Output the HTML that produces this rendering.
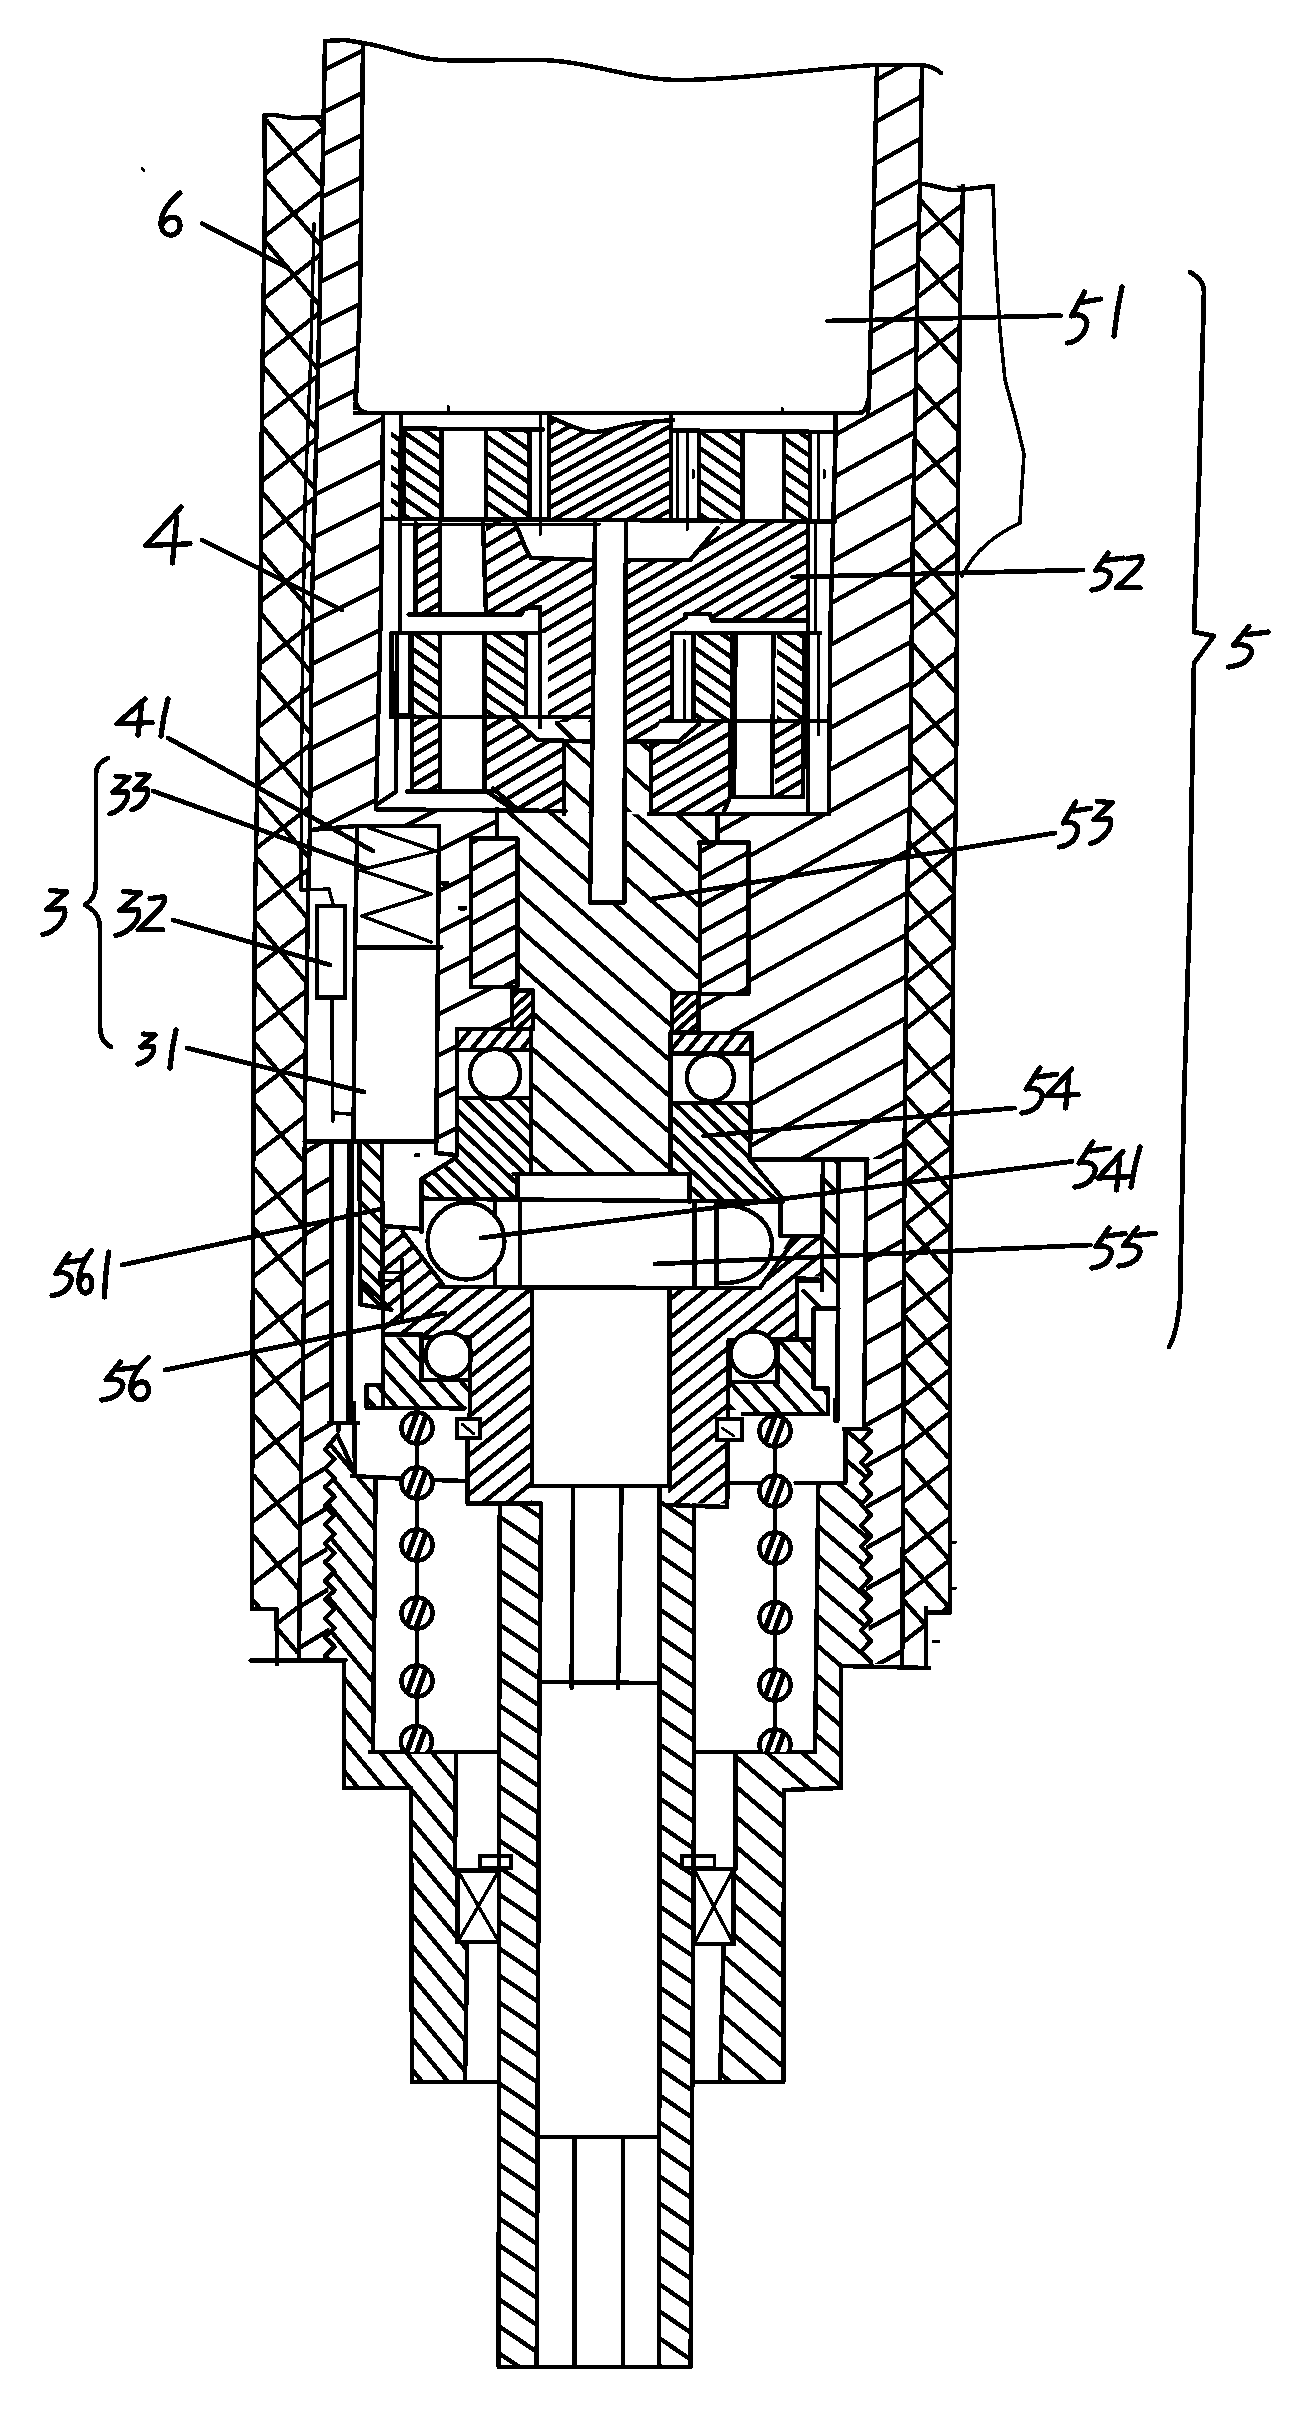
<!DOCTYPE html>
<html><head><meta charset="utf-8"><title>Diagram</title><style>html,body{margin:0;padding:0;background:#fff;overflow:hidden}svg{display:block;position:absolute;left:0;top:0}</style></head><body><svg width="1304" height="2423" viewBox="0 0 1304 2423" shape-rendering="crispEdges"><defs><clipPath id="c1"><polygon points="264.5,115.0 265.0,200.0 262.0,400.0 260.5,600.0 257.0,800.0 255.0,900.0 253.5,1100.0 252.4,1400.0 252.0,1608.0 276.6,1608.8 277.0,1660.0 299.0,1660.0 299.0,1660.0 300.5,1500.0 304.0,1300.0 305.0,1100.0 308.0,900.0 310.0,830.0 312.0,600.0 316.0,450.0 321.0,250.0 323.0,150.0 323.6,115.0"/></clipPath><clipPath id="c2"><polygon points="920.0,184.0 917.0,300.0 915.6,400.0 913.0,520.0 910.0,800.0 907.0,900.0 905.0,1100.0 904.5,1159.0 903.7,1300.0 903.0,1500.0 902.2,1664.0 926.0,1666.0 926.0,1612.0 949.8,1612.0 949.8,1612.0 949.8,1500.0 950.0,1300.0 952.0,1100.0 953.7,900.0 956.0,800.0 957.0,600.0 958.0,500.0 960.0,300.0 963.0,186.0"/></clipPath><clipPath id="c3"><polygon points="325.0,41.0 363.0,43.0 360.0,300.0 355.0,413.0 383.0,413.0 381.0,600.0 376.0,809.0 357.0,826.0 310.0,830.0 312.0,600.0 316.0,450.0 321.0,250.0 323.0,150.0 325.0,41.0"/></clipPath><clipPath id="c4"><polygon points="877.0,65.0 922.0,65.0 920.0,184.0 917.0,300.0 915.6,400.0 913.0,520.0 910.0,800.0 907.0,900.0 905.0,1100.0 904.5,1159.0 752.0,1159.0 752.0,1033.0 700.0,1033.0 700.0,994.0 748.0,994.0 748.0,842.0 717.0,842.0 717.0,814.0 829.0,814.0 830.5,620.0 835.7,432.0 835.7,413.0 867.0,413.0 869.0,400.0 874.0,200.0"/></clipPath><clipPath id="c5"><polygon points="376.0,809.0 497.0,809.0 497.0,838.7 471.0,838.7 471.0,987.0 512.0,990.0 512.0,1029.0 457.0,1029.0 457.0,1155.0 436.0,1155.0 436.0,1141.0 439.0,947.0 439.0,826.0 357.0,826.0"/></clipPath><clipPath id="c6"><polygon points="304.5,1141.7 331.4,1141.7 331.4,1422.0 338.0,1431.0 337.3,1435.0 325.0,1449.7 330.0,1656.0 330.0,1660.0 299.0,1660.0 299.0,1659.0 300.5,1500.0 304.0,1300.0 304.8,1141.7"/></clipPath><clipPath id="c7"><polygon points="866.4,1159.0 904.5,1159.0 903.7,1300.0 903.0,1500.0 902.2,1664.0 872.0,1664.0 866.0,1600.0 866.0,1429.0 866.4,1300.0"/></clipPath><clipPath id="c8"><polygon points="403.5,430.0 441.5,430.0 441.5,519.0 403.5,519.0"/></clipPath><clipPath id="c9"><polygon points="486.0,430.0 529.5,430.0 529.5,519.0 486.0,519.0"/></clipPath><clipPath id="c10"><polygon points="699.0,432.0 742.5,432.0 742.5,520.0 699.0,520.0"/></clipPath><clipPath id="c11"><polygon points="784.0,432.0 810.0,432.0 810.0,520.0 784.0,520.0"/></clipPath><clipPath id="c12"><polygon points="391.0,432.0 403.5,432.0 403.5,519.0 391.0,519.0"/></clipPath><clipPath id="c13"><polygon points="549.0,417.0 565.0,423.0 590.0,432.0 610.0,430.0 630.0,424.5 650.0,422.0 671.0,420.0 671.0,520.0 549.0,519.0"/></clipPath><clipPath id="c14"><polygon points="415.6,523.0 440.0,523.0 440.0,614.6 415.6,614.6"/></clipPath><clipPath id="c15"><polygon points="486.0,521.0 514.0,522.0 522.0,540.0 531.0,558.0 593.0,560.0 593.0,722.0 548.0,722.0 548.0,633.0 540.0,633.0 540.0,607.0 524.0,608.0 521.0,614.6 486.0,614.6"/></clipPath><clipPath id="c16"><polygon points="626.0,560.0 690.0,560.0 717.5,528.0 722.0,521.5 808.0,521.5 808.0,620.7 710.0,620.7 710.0,613.8 685.5,613.8 685.5,633.0 671.8,633.0 671.8,720.8 661.0,720.8 651.0,741.5 626.0,741.5"/></clipPath><clipPath id="c17"><polygon points="412.0,633.0 440.0,633.0 440.0,717.0 412.0,717.0"/></clipPath><clipPath id="c18"><polygon points="486.0,633.0 526.0,633.0 526.0,717.0 486.0,717.0"/></clipPath><clipPath id="c19"><polygon points="412.0,717.0 440.0,717.0 440.0,790.0 412.0,790.0"/></clipPath><clipPath id="c20"><polygon points="486.0,719.0 514.0,719.0 538.0,740.0 564.0,741.5 564.0,812.0 514.0,810.0 486.0,791.0"/></clipPath><clipPath id="c21"><polygon points="564.0,741.5 593.0,741.5 593.0,812.0 564.0,812.0"/></clipPath><clipPath id="c22"><polygon points="626.0,741.5 651.0,741.5 651.0,812.0 626.0,812.0"/></clipPath><clipPath id="c23"><polygon points="694.0,633.0 732.0,633.0 732.0,720.8 694.0,720.8"/></clipPath><clipPath id="c24"><polygon points="777.0,633.0 804.6,633.0 804.6,720.8 777.0,720.8"/></clipPath><clipPath id="c25"><polygon points="651.0,741.5 678.7,741.5 699.0,724.0 730.4,722.0 730.4,814.0 651.0,814.0"/></clipPath><clipPath id="c26"><polygon points="775.0,721.0 803.0,721.0 803.0,797.0 775.0,797.0"/></clipPath><clipPath id="c27"><polygon points="497.0,812.0 590.0,812.0 590.0,902.5 624.4,902.5 624.4,814.0 717.0,816.0 717.0,842.0 700.0,842.0 700.0,993.0 670.7,993.0 670.7,1173.8 531.0,1173.8 533.0,1028.0 533.0,990.5 517.4,990.5 517.4,838.7 497.0,838.7"/></clipPath><clipPath id="c28"><polygon points="471.0,838.7 517.4,838.7 517.4,987.0 471.0,987.0"/></clipPath><clipPath id="c29"><polygon points="700.0,842.0 748.4,842.0 748.4,994.0 700.0,994.0"/></clipPath><clipPath id="c30"><polygon points="512.0,990.5 533.0,990.5 533.0,1029.0 512.0,1029.0"/></clipPath><clipPath id="c31"><polygon points="672.0,993.0 698.3,993.0 698.3,1032.0 672.0,1032.0"/></clipPath><clipPath id="c32"><polygon points="459.0,1031.0 531.0,1031.0 531.0,1050.0 459.0,1050.0"/></clipPath><clipPath id="c33"><polygon points="457.0,1098.0 531.0,1098.0 531.0,1173.8 517.7,1173.8 517.7,1198.7 421.5,1198.7 421.5,1179.0 455.6,1158.0"/></clipPath><clipPath id="c34"><polygon points="672.0,1034.0 751.0,1034.0 751.0,1053.5 672.0,1053.5"/></clipPath><clipPath id="c35"><polygon points="670.7,1102.8 751.0,1102.8 749.4,1159.3 783.5,1199.7 782.5,1201.8 689.3,1201.8 689.3,1173.8 669.7,1173.8"/></clipPath><clipPath id="c36"><polygon points="359.4,1141.7 382.0,1141.7 383.0,1300.0 391.4,1309.7 360.4,1304.5"/></clipPath><clipPath id="c37"><polygon points="383.2,1229.0 402.8,1231.8 443.2,1285.0 441.0,1287.0 532.0,1287.0 532.0,1503.5 467.7,1503.5 470.0,1337.6 401.8,1334.5 383.2,1334.5"/></clipPath><clipPath id="c38"><polygon points="383.2,1337.6 421.5,1337.6 421.5,1380.0 470.0,1380.0 470.0,1408.0 366.6,1408.0 366.6,1385.0 383.2,1385.0"/></clipPath><clipPath id="c39"><polygon points="822.9,1159.0 838.4,1159.0 837.4,1290.0 821.8,1290.0"/></clipPath><clipPath id="c40"><polygon points="669.7,1288.0 759.7,1288.0 790.0,1238.0 821.8,1236.0 821.8,1276.6 797.0,1276.6 797.0,1336.6 777.0,1340.0 729.0,1340.0 728.7,1503.5 668.0,1503.5"/></clipPath><clipPath id="c41"><polygon points="729.7,1382.0 777.3,1382.0 777.3,1340.0 813.6,1340.0 813.6,1388.4 828.0,1388.4 828.0,1414.0 743.0,1414.0 743.0,1410.0 729.7,1410.0"/></clipPath><clipPath id="c42"><polygon points="499.8,1503.5 541.0,1503.5 538.8,1800.0 536.7,2367.0 498.7,2367.0 499.0,1800.0"/></clipPath><clipPath id="c43"><polygon points="659.7,1486.0 694.0,1505.0 694.0,1800.0 690.6,2367.0 659.0,2367.0 659.6,1800.0"/></clipPath><clipPath id="c44"><polygon points="337.3,1435.0 352.8,1468.0 355.0,1476.0 375.6,1478.7 373.0,1752.0 456.0,1752.0 455.0,1870.0 457.7,1870.0 457.7,1942.0 467.3,1942.0 465.0,2082.0 412.0,2082.0 411.0,1788.0 343.9,1788.0 343.9,1660.0 330.0,1660.0 325.0,1656.0 334.5,1646.6 325.0,1637.2 334.5,1627.9 325.0,1618.5 334.5,1609.1 325.0,1599.7 334.5,1590.4 325.0,1581.0 334.5,1571.6 325.0,1562.2 334.5,1552.8 325.0,1543.5 334.5,1534.1 325.0,1524.7 334.5,1515.3 325.0,1506.0 334.5,1496.6 325.0,1487.2 334.5,1477.8 325.0,1468.5 334.5,1459.1 325.0,1449.7"/></clipPath><clipPath id="c45"><polygon points="844.2,1429.0 868.0,1429.0 871.0,1431.0 861.0,1441.5 871.0,1452.0 861.0,1462.5 871.0,1473.0 861.0,1483.5 871.0,1494.0 861.0,1504.5 871.0,1515.0 861.0,1525.5 871.0,1536.0 861.0,1546.5 871.0,1557.0 861.0,1567.5 871.0,1578.0 861.0,1588.5 871.0,1599.0 861.0,1609.5 871.0,1620.0 861.0,1630.5 871.0,1641.0 861.0,1651.5 871.0,1662.0 841.0,1666.0 840.8,1788.0 784.0,1790.0 783.4,2082.0 720.0,2082.0 723.6,1944.0 733.7,1944.0 733.7,1869.0 735.7,1869.0 735.6,1752.0 815.0,1752.0 818.3,1485.0 845.3,1482.8"/></clipPath><clipPath id="c47"><circle cx="417.0" cy="1428.0" r="15.5"/></clipPath><clipPath id="c49"><circle cx="417.0" cy="1483.0" r="15.5"/></clipPath><clipPath id="c51"><circle cx="417.0" cy="1545.0" r="15.5"/></clipPath><clipPath id="c53"><circle cx="417.0" cy="1613.0" r="15.5"/></clipPath><clipPath id="c55"><circle cx="417.0" cy="1681.0" r="15.5"/></clipPath><clipPath id="c56"><rect x="397.8" y="1723.0" width="37.0" height="29.0"/></clipPath><clipPath id="c57"><circle cx="416.3" cy="1741.5" r="15.5"/></clipPath><clipPath id="c59"><circle cx="775.0" cy="1431.0" r="15.5"/></clipPath><clipPath id="c61"><circle cx="775.0" cy="1491.0" r="15.5"/></clipPath><clipPath id="c63"><circle cx="775.0" cy="1548.0" r="15.5"/></clipPath><clipPath id="c65"><circle cx="775.0" cy="1617.6" r="15.5"/></clipPath><clipPath id="c67"><circle cx="775.0" cy="1685.0" r="15.5"/></clipPath><clipPath id="c68"><rect x="756.5" y="1726.5" width="37.0" height="25.5"/></clipPath><clipPath id="c69"><circle cx="775.0" cy="1745.0" r="15.5"/></clipPath></defs><rect width="1304" height="2423" fill="#fff"/><path d="M263.5,112.6 L325.1,65.0 M266.5,59.6 L322.1,125.2 M263.7,174.7 L324.0,128.1 M266.7,120.7 L321.0,184.5 M263.8,236.8 L322.7,191.2 M266.8,181.6 L319.7,244.0 M262.9,299.2 L321.4,254.0 M265.9,242.1 L318.4,303.9 M262.0,357.4 L319.8,312.6 M265.0,306.9 L316.8,367.9 M261.0,419.7 L318.3,375.5 M264.0,367.4 L315.3,427.8 M260.6,481.9 L316.8,438.5 M263.6,428.3 L313.8,487.3 M260.1,539.8 L315.1,497.4 M263.1,493.4 L312.1,551.0 M259.6,601.9 L313.5,560.5 M262.6,554.3 L310.5,610.5 M258.7,664.6 L312.6,623.0 M261.7,614.5 L309.6,670.7 M257.7,727.4 L312.1,685.4 M260.7,674.3 L309.1,731.3 M256.6,786.0 L311.6,743.6 M259.6,738.4 L308.6,796.0 M255.5,848.8 L311.0,806.0 M258.5,798.3 L308.0,856.5 M254.2,911.2 L309.3,868.8 M257.2,858.7 L306.3,916.5 M253.6,969.4 L308.2,927.4 M256.6,923.4 L305.2,980.6 M253.2,1031.9 L307.3,990.1 M256.2,983.9 L304.3,1040.5 M252.7,1094.3 L306.4,1052.9 M255.7,1044.4 L303.4,1100.4 M252.4,1156.8 L305.8,1115.6 M255.4,1104.7 L302.8,1160.5 M252.1,1215.1 L305.5,1174.1 M255.1,1169.2 L302.5,1224.8 M251.9,1277.7 L305.2,1236.7 M254.9,1229.4 L302.2,1285.0 M251.7,1340.2 L304.7,1299.4 M254.7,1289.8 L301.7,1345.0 M251.5,1398.3 L303.6,1358.1 M254.5,1354.7 L300.6,1408.9 M251.3,1460.5 L302.5,1421.1 M254.3,1415.5 L299.5,1468.5 M251.2,1522.7 L301.5,1484.1 M254.2,1476.2 L298.5,1528.2 M251.1,1585.1 L300.9,1546.9 M254.1,1536.7 L297.9,1588.1 M251.0,1643.3 L300.3,1605.5 M254.0,1601.4 L297.3,1652.2" clip-path="url(#c1)" fill="none" stroke="#000" stroke-width="4.5" stroke-linecap="round"/>
<path d="M919.3,179.3 L964.0,145.1 M922.3,144.3 L961.0,187.3 M918.0,238.6 L963.1,204.2 M921.0,200.9 L960.1,244.3 M916.5,297.8 L961.5,263.4 M919.5,257.7 L958.5,301.1 M915.4,361.1 L960.6,326.5 M918.4,318.4 L957.6,362.0 M914.5,422.2 L959.9,387.4 M917.5,385.2 L956.9,429.2 M913.2,481.2 L959.4,445.8 M916.2,441.1 L956.4,485.9 M912.0,542.1 L958.8,506.3 M915.0,499.0 L955.8,544.6 M911.4,588.1 L958.3,552.3 M914.4,551.0 L955.3,596.6 M911.0,629.4 L957.9,593.4 M914.0,589.8 L954.9,635.4 M910.4,687.7 L957.7,651.5 M913.4,645.4 L954.7,691.4 M909.8,744.0 L957.4,707.6 M912.8,699.0 L954.4,745.4 M909.2,795.1 L957.1,758.5 M912.2,755.8 L954.1,802.6 M908.1,849.5 L956.3,812.5 M911.1,807.4 L953.3,854.6 M907.0,887.8 L955.4,850.6 M910.0,843.1 L952.4,890.5 M905.9,931.9 L954.6,894.5 M908.9,892.9 L951.6,940.7 M905.4,983.1 L954.1,945.7 M908.4,941.7 L951.1,989.5 M904.9,1029.3 L953.8,991.9 M907.9,985.5 L950.8,1033.3 M904.3,1090.6 L953.3,1053.0 M907.3,1044.2 L950.3,1092.2 M903.8,1137.6 L952.8,1100.0 M906.8,1097.2 L949.8,1145.2 M903.5,1183.8 L952.4,1146.2 M906.5,1141.0 L949.4,1189.0 M903.2,1225.9 L951.9,1188.5 M906.2,1180.9 L948.9,1228.7 M903.0,1263.3 L951.5,1226.1 M906.0,1224.5 L948.5,1272.1 M902.7,1313.9 L951.0,1276.9 M905.7,1273.0 L948.0,1320.2 M902.6,1360.2 L951.0,1323.0 M905.6,1316.7 L948.0,1364.1 M902.4,1406.4 L950.9,1369.2 M905.4,1360.5 L947.9,1407.9 M902.2,1449.5 L950.9,1412.1 M905.2,1409.4 L947.9,1457.0 M902.1,1502.7 L950.8,1465.3 M905.1,1460.1 L947.8,1507.9 M901.8,1555.0 L950.8,1517.4 M904.8,1509.8 L947.8,1557.8 M901.6,1597.1 L950.8,1559.3 M904.6,1557.7 L947.8,1605.9 M901.4,1643.4 L950.8,1605.4 M904.4,1601.3 L947.8,1649.9" clip-path="url(#c2)" fill="none" stroke="#000" stroke-width="4.5" stroke-linecap="round"/>
<path d="M308.0,-6.0 L385.0,-44.5 M308.0,36.0 L385.0,-2.5 M308.0,78.0 L385.0,39.5 M308.0,120.0 L385.0,81.5 M308.0,162.0 L385.0,123.5 M308.0,204.0 L385.0,165.5 M308.0,246.0 L385.0,207.5 M308.0,288.0 L385.0,249.5 M308.0,330.0 L385.0,291.5 M308.0,372.0 L385.0,333.5 M308.0,414.0 L385.0,375.5 M308.0,456.0 L385.0,417.5 M308.0,498.0 L385.0,459.5 M308.0,540.0 L385.0,501.5 M308.0,582.0 L385.0,543.5 M308.0,624.0 L385.0,585.5 M308.0,666.0 L385.0,627.5 M308.0,708.0 L385.0,669.5 M308.0,750.0 L385.0,711.5 M308.0,792.0 L385.0,753.5 M308.0,834.0 L385.0,795.5 M308.0,876.0 L385.0,837.5" clip-path="url(#c3)" fill="none" stroke="#000" stroke-width="4.5"/>
<path d="M698.0,-111.4 L924.0,-237.0 M698.0,-69.9 L924.0,-195.5 M698.0,-28.4 L924.0,-154.0 M698.0,13.1 L924.0,-112.5 M698.0,54.6 L924.0,-71.0 M698.0,96.1 L924.0,-29.5 M698.0,137.6 L924.0,12.0 M698.0,179.1 L924.0,53.5 M698.0,220.6 L924.0,95.0 M698.0,262.1 L924.0,136.5 M698.0,303.6 L924.0,178.0 M698.0,345.1 L924.0,219.5 M698.0,386.6 L924.0,261.0 M698.0,428.1 L924.0,302.5 M698.0,469.6 L924.0,344.0 M698.0,511.1 L924.0,385.5 M698.0,552.6 L924.0,427.0 M698.0,594.1 L924.0,468.5 M698.0,635.6 L924.0,510.0 M698.0,677.1 L924.0,551.5 M698.0,718.6 L924.0,593.0 M698.0,760.1 L924.0,634.5 M698.0,801.6 L924.0,676.0 M698.0,843.1 L924.0,717.5 M698.0,884.6 L924.0,759.0 M698.0,926.1 L924.0,800.5 M698.0,967.6 L924.0,842.0 M698.0,1009.1 L924.0,883.5 M698.0,1050.6 L924.0,925.0 M698.0,1092.1 L924.0,966.5 M698.0,1133.6 L924.0,1008.0 M698.0,1175.1 L924.0,1049.5 M698.0,1216.6 L924.0,1091.0 M698.0,1258.1 L924.0,1132.5 M698.0,1299.6 L924.0,1174.0" clip-path="url(#c4)" fill="none" stroke="#000" stroke-width="4.5"/>
<path d="M355.0,687.0 L514.0,607.5 M355.0,728.0 L514.0,648.5 M355.0,769.0 L514.0,689.5 M355.0,810.0 L514.0,730.5 M355.0,851.0 L514.0,771.5 M355.0,892.0 L514.0,812.5 M355.0,933.0 L514.0,853.5 M355.0,974.0 L514.0,894.5 M355.0,1015.0 L514.0,935.5 M355.0,1056.0 L514.0,976.5 M355.0,1097.0 L514.0,1017.5 M355.0,1138.0 L514.0,1058.5 M355.0,1179.0 L514.0,1099.5 M355.0,1220.0 L514.0,1140.5 M355.0,1261.0 L514.0,1181.5" clip-path="url(#c5)" fill="none" stroke="#000" stroke-width="4.5"/>
<path d="M297.0,1075.2 L340.0,1049.4 M297.0,1116.2 L340.0,1090.4 M297.0,1157.2 L340.0,1131.4 M297.0,1198.2 L340.0,1172.4 M297.0,1239.2 L340.0,1213.4 M297.0,1280.2 L340.0,1254.4 M297.0,1321.2 L340.0,1295.4 M297.0,1362.2 L340.0,1336.4 M297.0,1403.2 L340.0,1377.4 M297.0,1444.2 L340.0,1418.4 M297.0,1485.2 L340.0,1459.4 M297.0,1526.2 L340.0,1500.4 M297.0,1567.2 L340.0,1541.4 M297.0,1608.2 L340.0,1582.4 M297.0,1649.2 L340.0,1623.4 M297.0,1690.2 L340.0,1664.4" clip-path="url(#c6)" fill="none" stroke="#000" stroke-width="4.5"/>
<path d="M864.0,1098.1 L906.5,1074.5 M864.0,1139.1 L906.5,1115.5 M864.0,1180.1 L906.5,1156.5 M864.0,1221.1 L906.5,1197.5 M864.0,1262.1 L906.5,1238.5 M864.0,1303.1 L906.5,1279.5 M864.0,1344.1 L906.5,1320.5 M864.0,1385.1 L906.5,1361.5 M864.0,1426.1 L906.5,1402.5 M864.0,1467.1 L906.5,1443.5 M864.0,1508.1 L906.5,1484.5 M864.0,1549.1 L906.5,1525.5 M864.0,1590.1 L906.5,1566.5 M864.0,1631.1 L906.5,1607.5 M864.0,1672.1 L906.5,1648.5 M864.0,1713.1 L906.5,1689.5" clip-path="url(#c7)" fill="none" stroke="#000" stroke-width="4.5"/>
<polyline points="264.5,115.0 265.0,200.0 262.0,400.0 260.5,600.0 257.0,800.0 255.0,900.0 253.5,1100.0 252.4,1400.0 252.0,1608.0" fill="none" stroke="#000" stroke-width="4.5" stroke-linejoin="round" stroke-linecap="round"/>
<polyline points="252.0,1608.8 276.6,1608.8 277.0,1664.0" fill="none" stroke="#000" stroke-width="4.5" stroke-linejoin="round" stroke-linecap="round"/>
<polyline points="325.0,41.0 323.0,150.0 321.0,250.0 316.0,450.0 312.0,600.0 310.0,830.0 308.0,900.0 305.0,1100.0 304.0,1300.0 300.5,1500.0 299.0,1660.0" fill="none" stroke="#000" stroke-width="4.5" stroke-linejoin="round" stroke-linecap="round"/>
<polyline points="250.7,1660.4 345.6,1660.4 343.9,1660.4" fill="none" stroke="#000" stroke-width="4.5" stroke-linejoin="round" stroke-linecap="round"/>
<path d="M264.5,116 C275,112 285,119 297,118 C308,117 315,118 323,117" fill="none" stroke="#000" stroke-width="4.5" stroke-linejoin="round" stroke-linecap="round"/>
<polyline points="314.0,224.0 311.0,350.0 305.0,500.0 302.0,700.0 301.0,890.0 329.0,889.0 333.0,904.0" fill="none" stroke="#000" stroke-width="3.4" stroke-linejoin="round" stroke-linecap="round"/>
<polyline points="922.0,65.0 920.0,184.0 917.0,300.0 915.6,400.0 913.0,520.0 910.0,800.0 907.0,900.0 905.0,1100.0 904.5,1159.0 903.7,1300.0 903.0,1500.0 902.2,1664.0" fill="none" stroke="#000" stroke-width="4.5" stroke-linejoin="round" stroke-linecap="round"/>
<polyline points="963.0,186.0 960.0,300.0 958.0,500.0 957.0,600.0 956.0,800.0 953.7,900.0 952.0,1100.0 950.0,1300.0 949.8,1500.0 949.8,1612.0" fill="none" stroke="#000" stroke-width="4.5" stroke-linejoin="round" stroke-linecap="round"/>
<polyline points="926.0,1608.0 926.0,1668.0" fill="none" stroke="#000" stroke-width="4.5" stroke-linejoin="round" stroke-linecap="round"/>
<polyline points="926.0,1612.5 949.8,1612.5" fill="none" stroke="#000" stroke-width="4.5" stroke-linejoin="round" stroke-linecap="round"/>
<line x1="949.8" y1="1543.0" x2="956.0" y2="1542.0" stroke="#000" stroke-width="3.0" stroke-linecap="round"/>
<line x1="949.8" y1="1589.0" x2="956.0" y2="1588.0" stroke="#000" stroke-width="3.0" stroke-linecap="round"/>
<line x1="933.0" y1="1641.4" x2="939.0" y2="1641.4" stroke="#000" stroke-width="3.0" stroke-linecap="round"/>
<path d="M921,184 C935,184 945,192 961,190 C975,188 985,187 993,186" fill="none" stroke="#000" stroke-width="4.5" stroke-linejoin="round" stroke-linecap="round"/>
<path d="M993,186 L995,250 L1000,330 L1005,380 L1016,420 L1024,454 L1021,500 L1020,523 C995,535 975,550 962,576" fill="none" stroke="#000" stroke-width="3.6" stroke-linejoin="round" stroke-linecap="round"/>
<polyline points="363.0,43.0 360.0,300.0 356.0,400.0 355.0,408.0" fill="none" stroke="#000" stroke-width="4.5" stroke-linejoin="round" stroke-linecap="round"/>
<path d="M355,396 C356,408 360,412 368,413" fill="none" stroke="#000" stroke-width="4.5" stroke-linejoin="round" stroke-linecap="round"/>
<polyline points="355.0,413.0 861.5,413.0" fill="none" stroke="#000" stroke-width="4.5" stroke-linejoin="round" stroke-linecap="round"/>
<polyline points="877.0,65.0 874.0,200.0 869.0,400.0 868.0,413.0" fill="none" stroke="#000" stroke-width="4.5" stroke-linejoin="round" stroke-linecap="round"/>
<path d="M868,400 C867,409 864,413 858,413" fill="none" stroke="#000" stroke-width="4.5" stroke-linejoin="round" stroke-linecap="round"/>
<path d="M325,41 L345,40 L363,43 C395,48 410,58 440,60 C480,62 500,59 540,60 C590,61 630,80 680,80 C740,80 800,70 874,65 L922,65 C930,66 936,68 941,73" fill="none" stroke="#000" stroke-width="4.5" stroke-linejoin="round" stroke-linecap="round"/>
<polyline points="383.0,413.0 381.0,600.0 376.0,809.0" fill="none" stroke="#000" stroke-width="4.5" stroke-linejoin="round" stroke-linecap="round"/>
<polyline points="401.0,413.0 400.0,520.0 400.0,633.0" fill="none" stroke="#000" stroke-width="4.5" stroke-linejoin="round" stroke-linecap="round"/>
<polyline points="401.0,428.5 543.0,429.5" fill="none" stroke="#000" stroke-width="4.5" stroke-linejoin="round" stroke-linecap="round"/>
<polyline points="673.0,430.5 835.7,432.0" fill="none" stroke="#000" stroke-width="4.5" stroke-linejoin="round" stroke-linecap="round"/>
<polyline points="835.7,413.0 835.7,432.0 830.5,620.0 828.8,814.0" fill="none" stroke="#000" stroke-width="4.5" stroke-linejoin="round" stroke-linecap="round"/>
<polyline points="376.0,809.3 565.7,811.0" fill="none" stroke="#000" stroke-width="4.5" stroke-linejoin="round" stroke-linecap="round"/>
<polyline points="397.0,633.0 396.0,791.7 376.0,805.0" fill="none" stroke="#000" stroke-width="4.5" stroke-linejoin="round" stroke-linecap="round"/>
<polyline points="649.0,814.0 828.8,814.0" fill="none" stroke="#000" stroke-width="4.5" stroke-linejoin="round" stroke-linecap="round"/>
<path d="M401.5,381.1 L443.5,410.5 M401.5,397.6 L443.5,427.0 M401.5,414.1 L443.5,443.5 M401.5,430.6 L443.5,460.0 M401.5,447.1 L443.5,476.5 M401.5,463.6 L443.5,493.0 M401.5,480.1 L443.5,509.5 M401.5,496.6 L443.5,526.0 M401.5,513.1 L443.5,542.5 M401.5,529.6 L443.5,559.0 M401.5,546.1 L443.5,575.5" clip-path="url(#c8)" fill="none" stroke="#000" stroke-width="4.5"/>
<path d="M484.0,385.1 L531.5,418.4 M484.0,401.6 L531.5,434.9 M484.0,418.1 L531.5,451.4 M484.0,434.6 L531.5,467.9 M484.0,451.1 L531.5,484.4 M484.0,467.6 L531.5,500.9 M484.0,484.1 L531.5,517.4 M484.0,500.6 L531.5,533.9 M484.0,517.1 L531.5,550.4 M484.0,533.6 L531.5,566.9 M484.0,550.1 L531.5,583.4" clip-path="url(#c9)" fill="none" stroke="#000" stroke-width="4.5"/>
<path d="M697.0,380.1 L744.5,413.4 M697.0,396.6 L744.5,429.9 M697.0,413.1 L744.5,446.4 M697.0,429.6 L744.5,462.9 M697.0,446.1 L744.5,479.4 M697.0,462.6 L744.5,495.9 M697.0,479.1 L744.5,512.4 M697.0,495.6 L744.5,528.9 M697.0,512.1 L744.5,545.4 M697.0,528.6 L744.5,561.9 M697.0,545.1 L744.5,578.4 M697.0,561.6 L744.5,594.9" clip-path="url(#c10)" fill="none" stroke="#000" stroke-width="4.5"/>
<path d="M782.0,403.6 L812.0,424.6 M782.0,420.1 L812.0,441.1 M782.0,436.6 L812.0,457.6 M782.0,453.1 L812.0,474.1 M782.0,469.6 L812.0,490.6 M782.0,486.1 L812.0,507.1 M782.0,502.6 L812.0,523.6 M782.0,519.1 L812.0,540.1 M782.0,535.6 L812.0,556.6 M782.0,552.1 L812.0,573.1" clip-path="url(#c11)" fill="none" stroke="#000" stroke-width="4.5"/>
<path d="M389.0,399.6 L405.5,411.1 M389.0,416.1 L405.5,427.6 M389.0,432.6 L405.5,444.1 M389.0,449.1 L405.5,460.6 M389.0,465.6 L405.5,477.1 M389.0,482.1 L405.5,493.6 M389.0,498.6 L405.5,510.1 M389.0,515.1 L405.5,526.6 M389.0,531.6 L405.5,543.1" clip-path="url(#c12)" fill="none" stroke="#000" stroke-width="4.5"/>
<path d="M547.0,327.1 L673.0,256.6 M547.0,341.1 L673.0,270.6 M547.0,355.1 L673.0,284.6 M547.0,369.1 L673.0,298.6 M547.0,383.1 L673.0,312.6 M547.0,397.1 L673.0,326.6 M547.0,411.1 L673.0,340.6 M547.0,425.1 L673.0,354.6 M547.0,439.1 L673.0,368.6 M547.0,453.1 L673.0,382.6 M547.0,467.1 L673.0,396.6 M547.0,481.1 L673.0,410.6 M547.0,495.1 L673.0,424.6 M547.0,509.1 L673.0,438.6 M547.0,523.1 L673.0,452.6 M547.0,537.1 L673.0,466.6 M547.0,551.1 L673.0,480.6 M547.0,565.1 L673.0,494.6 M547.0,579.1 L673.0,508.6 M547.0,593.1 L673.0,522.6" clip-path="url(#c13)" fill="none" stroke="#000" stroke-width="4.5"/>
<path d="M549,417 C562,421 577,431 592,432 C612,432 625,423 650,422 L673,420" fill="none" stroke="#000" stroke-width="4.5" stroke-linejoin="round" stroke-linecap="round"/>
<line x1="403.5" y1="430.0" x2="403.5" y2="519.0" stroke="#000" stroke-width="4.5" stroke-linecap="round"/>
<line x1="441.5" y1="430.0" x2="441.5" y2="519.0" stroke="#000" stroke-width="4.5" stroke-linecap="round"/>
<line x1="486.0" y1="430.0" x2="486.0" y2="519.0" stroke="#000" stroke-width="4.5" stroke-linecap="round"/>
<line x1="529.5" y1="430.0" x2="529.5" y2="519.0" stroke="#000" stroke-width="4.5" stroke-linecap="round"/>
<line x1="699.0" y1="432.0" x2="699.0" y2="520.0" stroke="#000" stroke-width="4.5" stroke-linecap="round"/>
<line x1="742.5" y1="432.0" x2="742.5" y2="520.0" stroke="#000" stroke-width="4.5" stroke-linecap="round"/>
<line x1="784.0" y1="432.0" x2="784.0" y2="520.0" stroke="#000" stroke-width="4.5" stroke-linecap="round"/>
<line x1="810.0" y1="432.0" x2="810.0" y2="520.0" stroke="#000" stroke-width="4.5" stroke-linecap="round"/>
<line x1="549.0" y1="413.0" x2="549.0" y2="519.0" stroke="#000" stroke-width="4.5" stroke-linecap="round"/>
<line x1="671.0" y1="416.0" x2="671.0" y2="521.0" stroke="#000" stroke-width="4.5" stroke-linecap="round"/>
<line x1="677.5" y1="430.0" x2="677.5" y2="521.0" stroke="#000" stroke-width="3.0" stroke-linecap="round"/>
<line x1="540.0" y1="413.0" x2="540.0" y2="535.0" stroke="#000" stroke-width="3.0" stroke-linecap="round"/>
<line x1="687.0" y1="432.0" x2="687.0" y2="530.0" stroke="#000" stroke-width="3.0" stroke-linecap="round"/>
<line x1="818.0" y1="432.0" x2="818.0" y2="521.0" stroke="#000" stroke-width="3.0" stroke-linecap="round"/>
<line x1="540.0" y1="470.0" x2="540.0" y2="478.0" stroke="#000" stroke-width="3.0" stroke-linecap="round"/>
<line x1="693.0" y1="470.0" x2="693.0" y2="478.0" stroke="#000" stroke-width="3.0" stroke-linecap="round"/>
<line x1="824.0" y1="470.0" x2="824.0" y2="478.0" stroke="#000" stroke-width="3.0" stroke-linecap="round"/>
<polyline points="383.0,519.0 600.0,520.0 835.0,521.5" fill="none" stroke="#000" stroke-width="4.5" stroke-linejoin="round" stroke-linecap="round"/>
<line x1="401.0" y1="524.0" x2="600.0" y2="524.0" stroke="#000" stroke-width="3.0" stroke-linecap="round"/>
<path d="M413.6,484.2 L442.0,467.2 M413.6,499.2 L442.0,482.2 M413.6,514.2 L442.0,497.2 M413.6,529.2 L442.0,512.2 M413.6,544.2 L442.0,527.2 M413.6,559.2 L442.0,542.2 M413.6,574.2 L442.0,557.2 M413.6,589.2 L442.0,572.2 M413.6,604.2 L442.0,587.2 M413.6,619.2 L442.0,602.2 M413.6,634.2 L442.0,617.2" clip-path="url(#c14)" fill="none" stroke="#000" stroke-width="4.5"/>
<line x1="415.6" y1="523.0" x2="415.6" y2="614.6" stroke="#000" stroke-width="4.5" stroke-linecap="round"/>
<line x1="440.0" y1="523.0" x2="440.0" y2="614.6" stroke="#000" stroke-width="4.5" stroke-linecap="round"/>
<line x1="483.0" y1="523.0" x2="486.0" y2="614.6" stroke="#000" stroke-width="4.5" stroke-linecap="round"/>
<path d="M484.0,428.2 L595.0,362.7 M484.0,445.2 L595.0,379.7 M484.0,462.2 L595.0,396.7 M484.0,479.2 L595.0,413.7 M484.0,496.2 L595.0,430.7 M484.0,513.2 L595.0,447.7 M484.0,530.2 L595.0,464.7 M484.0,547.2 L595.0,481.7 M484.0,564.2 L595.0,498.7 M484.0,581.2 L595.0,515.7 M484.0,598.2 L595.0,532.7 M484.0,615.2 L595.0,549.7 M484.0,632.2 L595.0,566.7 M484.0,649.2 L595.0,583.7 M484.0,666.2 L595.0,600.7 M484.0,683.2 L595.0,617.7 M484.0,700.2 L595.0,634.7 M484.0,717.2 L595.0,651.7 M484.0,734.2 L595.0,668.7 M484.0,751.2 L595.0,685.7 M484.0,768.2 L595.0,702.7 M484.0,785.2 L595.0,719.7 M484.0,802.2 L595.0,736.7" clip-path="url(#c15)" fill="none" stroke="#000" stroke-width="4.5"/>
<path d="M514,522 C520,530 524,550 531,558 L593,560" fill="none" stroke="#000" stroke-width="4.5" stroke-linejoin="round" stroke-linecap="round"/>
<polyline points="408.7,614.6 521.0,614.6 524.0,608.6 540.0,607.0 540.0,727.0" fill="none" stroke="#000" stroke-width="4.5" stroke-linejoin="round" stroke-linecap="round"/>
<path d="M624.0,399.2 L810.0,289.4 M624.0,414.2 L810.0,304.4 M624.0,429.2 L810.0,319.4 M624.0,444.2 L810.0,334.4 M624.0,459.2 L810.0,349.4 M624.0,474.2 L810.0,364.4 M624.0,489.2 L810.0,379.4 M624.0,504.2 L810.0,394.4 M624.0,519.2 L810.0,409.4 M624.0,534.2 L810.0,424.4 M624.0,549.2 L810.0,439.4 M624.0,564.2 L810.0,454.4 M624.0,579.2 L810.0,469.4 M624.0,594.2 L810.0,484.4 M624.0,609.2 L810.0,499.4 M624.0,624.2 L810.0,514.4 M624.0,639.2 L810.0,529.4 M624.0,654.2 L810.0,544.4 M624.0,669.2 L810.0,559.4 M624.0,684.2 L810.0,574.4 M624.0,699.2 L810.0,589.4 M624.0,714.2 L810.0,604.4 M624.0,729.2 L810.0,619.4 M624.0,744.2 L810.0,634.4 M624.0,759.2 L810.0,649.4 M624.0,774.2 L810.0,664.4 M624.0,789.2 L810.0,679.4 M624.0,804.2 L810.0,694.4 M624.0,819.2 L810.0,709.4 M624.0,834.2 L810.0,724.4 M624.0,849.2 L810.0,739.4 M624.0,864.2 L810.0,754.4" clip-path="url(#c16)" fill="none" stroke="#000" stroke-width="4.5"/>
<polyline points="626.0,560.0 690.0,560.0 717.5,528.0" fill="none" stroke="#000" stroke-width="4.5" stroke-linejoin="round" stroke-linecap="round"/>
<polyline points="685.5,618.0 685.5,613.8 710.0,613.8 712.0,620.7 808.0,620.7" fill="none" stroke="#000" stroke-width="4.5" stroke-linejoin="round" stroke-linecap="round"/>
<line x1="808.0" y1="521.5" x2="808.0" y2="620.7" stroke="#000" stroke-width="4.5" stroke-linecap="round"/>
<line x1="815.0" y1="521.5" x2="815.0" y2="633.0" stroke="#000" stroke-width="3.0" stroke-linecap="round"/>
<polyline points="595.0,520.0 593.0,700.0 590.0,902.5 624.4,902.5 625.0,700.0 626.0,521.0" fill="none" stroke="#000" stroke-width="4.5" stroke-linejoin="round" stroke-linecap="round"/>
<line x1="593.0" y1="560.0" x2="531.0" y2="558.0" stroke="#000" stroke-width="4.5" stroke-linecap="round"/>
<polyline points="391.4,633.0 538.0,633.0" fill="none" stroke="#000" stroke-width="4.5" stroke-linejoin="round" stroke-linecap="round"/>
<polyline points="391.4,633.0 391.4,715.6 410.4,715.6" fill="none" stroke="#000" stroke-width="4.5" stroke-linejoin="round" stroke-linecap="round"/>
<line x1="410.4" y1="633.0" x2="410.4" y2="715.6" stroke="#000" stroke-width="4.5" stroke-linecap="round"/>
<path d="M410.0,597.6 L442.0,620.0 M410.0,614.1 L442.0,636.5 M410.0,630.6 L442.0,653.0 M410.0,647.1 L442.0,669.5 M410.0,663.6 L442.0,686.0 M410.0,680.1 L442.0,702.5 M410.0,696.6 L442.0,719.0 M410.0,713.1 L442.0,735.5 M410.0,729.6 L442.0,752.0 M410.0,746.1 L442.0,768.5" clip-path="url(#c17)" fill="none" stroke="#000" stroke-width="4.5"/>
<path d="M484.0,577.1 L528.0,607.9 M484.0,593.6 L528.0,624.4 M484.0,610.1 L528.0,640.9 M484.0,626.6 L528.0,657.4 M484.0,643.1 L528.0,673.9 M484.0,659.6 L528.0,690.4 M484.0,676.1 L528.0,706.9 M484.0,692.6 L528.0,723.4 M484.0,709.1 L528.0,739.9 M484.0,725.6 L528.0,756.4 M484.0,742.1 L528.0,772.9 M484.0,758.6 L528.0,789.4" clip-path="url(#c18)" fill="none" stroke="#000" stroke-width="4.5"/>
<line x1="412.0" y1="633.0" x2="412.0" y2="790.0" stroke="#000" stroke-width="4.5" stroke-linecap="round"/>
<line x1="440.0" y1="633.0" x2="440.0" y2="790.0" stroke="#000" stroke-width="4.5" stroke-linecap="round"/>
<line x1="484.6" y1="633.0" x2="484.6" y2="790.0" stroke="#000" stroke-width="4.5" stroke-linecap="round"/>
<line x1="526.0" y1="633.0" x2="526.0" y2="717.0" stroke="#000" stroke-width="4.5" stroke-linecap="round"/>
<polyline points="391.0,717.0 590.0,717.0" fill="none" stroke="#000" stroke-width="4.5" stroke-linejoin="round" stroke-linecap="round"/>
<path d="M410.0,682.2 L442.0,663.0 M410.0,697.2 L442.0,678.0 M410.0,712.2 L442.0,693.0 M410.0,727.2 L442.0,708.0 M410.0,742.2 L442.0,723.0 M410.0,757.2 L442.0,738.0 M410.0,772.2 L442.0,753.0 M410.0,787.2 L442.0,768.0 M410.0,802.2 L442.0,783.0 M410.0,817.2 L442.0,798.0" clip-path="url(#c19)" fill="none" stroke="#000" stroke-width="4.5"/>
<line x1="407.0" y1="791.5" x2="493.0" y2="791.5" stroke="#000" stroke-width="4.5" stroke-linecap="round"/>
<path d="M484.0,647.7 L566.0,598.5 M484.0,664.2 L566.0,615.0 M484.0,680.7 L566.0,631.5 M484.0,697.2 L566.0,648.0 M484.0,713.7 L566.0,664.5 M484.0,730.2 L566.0,681.0 M484.0,746.7 L566.0,697.5 M484.0,763.2 L566.0,714.0 M484.0,779.7 L566.0,730.5 M484.0,796.2 L566.0,747.0 M484.0,812.7 L566.0,763.5 M484.0,829.2 L566.0,780.0 M484.0,845.7 L566.0,796.5 M484.0,862.2 L566.0,813.0" clip-path="url(#c20)" fill="none" stroke="#000" stroke-width="4.5"/>
<polyline points="514.0,719.0 538.0,740.0 590.0,741.5" fill="none" stroke="#000" stroke-width="4.5" stroke-linejoin="round" stroke-linecap="round"/>
<polyline points="557.0,723.0 574.0,740.0" fill="none" stroke="#000" stroke-width="4.5" stroke-linejoin="round" stroke-linecap="round"/>
<polyline points="564.0,741.5 564.0,814.0" fill="none" stroke="#000" stroke-width="4.5" stroke-linejoin="round" stroke-linecap="round"/>
<polyline points="486.0,791.0 514.0,810.0" fill="none" stroke="#000" stroke-width="4.5" stroke-linejoin="round" stroke-linecap="round"/>
<path d="M562.0,660.2 L595.0,689.9 M562.0,700.2 L595.0,729.9 M562.0,740.2 L595.0,769.9 M562.0,780.2 L595.0,809.9 M562.0,820.2 L595.0,849.9 M562.0,860.2 L595.0,889.9" clip-path="url(#c21)" fill="none" stroke="#000" stroke-width="4.5"/>
<path d="M624.0,647.2 L653.0,673.3 M624.0,687.2 L653.0,713.3 M624.0,727.2 L653.0,753.3 M624.0,767.2 L653.0,793.3 M624.0,807.2 L653.0,833.3 M624.0,847.2 L653.0,873.3" clip-path="url(#c22)" fill="none" stroke="#000" stroke-width="4.5"/>
<polyline points="671.8,632.8 820.0,632.8" fill="none" stroke="#000" stroke-width="4.5" stroke-linejoin="round" stroke-linecap="round"/>
<line x1="671.8" y1="633.0" x2="671.8" y2="720.8" stroke="#000" stroke-width="4.5" stroke-linecap="round"/>
<line x1="684.0" y1="640.0" x2="684.0" y2="720.0" stroke="#000" stroke-width="3.0" stroke-linecap="round"/>
<line x1="692.5" y1="633.0" x2="692.5" y2="720.8" stroke="#000" stroke-width="3.0" stroke-linecap="round"/>
<path d="M692.0,580.1 L734.0,609.5 M692.0,596.6 L734.0,626.0 M692.0,613.1 L734.0,642.5 M692.0,629.6 L734.0,659.0 M692.0,646.1 L734.0,675.5 M692.0,662.6 L734.0,692.0 M692.0,679.1 L734.0,708.5 M692.0,695.6 L734.0,725.0 M692.0,712.1 L734.0,741.5 M692.0,728.6 L734.0,758.0 M692.0,745.1 L734.0,774.5 M692.0,761.6 L734.0,791.0" clip-path="url(#c23)" fill="none" stroke="#000" stroke-width="4.5"/>
<path d="M775.0,600.6 L806.6,622.7 M775.0,617.1 L806.6,639.2 M775.0,633.6 L806.6,655.7 M775.0,650.1 L806.6,672.2 M775.0,666.6 L806.6,688.7 M775.0,683.1 L806.6,705.2 M775.0,699.6 L806.6,721.7 M775.0,716.1 L806.6,738.2 M775.0,732.6 L806.6,754.7 M775.0,749.1 L806.6,771.2" clip-path="url(#c24)" fill="none" stroke="#000" stroke-width="4.5"/>
<line x1="694.0" y1="633.0" x2="694.0" y2="720.8" stroke="#000" stroke-width="4.5" stroke-linecap="round"/>
<line x1="732.0" y1="633.0" x2="732.0" y2="720.8" stroke="#000" stroke-width="4.5" stroke-linecap="round"/>
<line x1="735.6" y1="633.0" x2="734.0" y2="797.0" stroke="#000" stroke-width="4.5" stroke-linecap="round"/>
<line x1="773.5" y1="633.0" x2="772.0" y2="797.0" stroke="#000" stroke-width="4.5" stroke-linecap="round"/>
<line x1="804.6" y1="633.0" x2="803.0" y2="797.0" stroke="#000" stroke-width="4.5" stroke-linecap="round"/>
<line x1="808.0" y1="620.0" x2="808.0" y2="814.0" stroke="#000" stroke-width="4.5" stroke-linecap="round"/>
<line x1="818.4" y1="633.0" x2="818.4" y2="735.0" stroke="#000" stroke-width="3.0" stroke-linecap="round"/>
<polyline points="661.0,720.8 827.0,720.8" fill="none" stroke="#000" stroke-width="4.5" stroke-linejoin="round" stroke-linecap="round"/>
<path d="M649.0,649.7 L732.4,599.7 M649.0,666.2 L732.4,616.2 M649.0,682.7 L732.4,632.7 M649.0,699.2 L732.4,649.2 M649.0,715.7 L732.4,665.7 M649.0,732.2 L732.4,682.2 M649.0,748.7 L732.4,698.7 M649.0,765.2 L732.4,715.2 M649.0,781.7 L732.4,731.7 M649.0,798.2 L732.4,748.2 M649.0,814.7 L732.4,764.7 M649.0,831.2 L732.4,781.2 M649.0,847.7 L732.4,797.7 M649.0,864.2 L732.4,814.2" clip-path="url(#c25)" fill="none" stroke="#000" stroke-width="4.5"/>
<polyline points="627.0,741.5 678.7,741.5 699.0,724.0" fill="none" stroke="#000" stroke-width="4.5" stroke-linejoin="round" stroke-linecap="round"/>
<line x1="651.0" y1="741.5" x2="651.0" y2="814.0" stroke="#000" stroke-width="4.5" stroke-linecap="round"/>
<line x1="730.4" y1="722.0" x2="730.4" y2="797.0" stroke="#000" stroke-width="4.5" stroke-linecap="round"/>
<path d="M773.0,678.2 L805.0,659.0 M773.0,693.2 L805.0,674.0 M773.0,708.2 L805.0,689.0 M773.0,723.2 L805.0,704.0 M773.0,738.2 L805.0,719.0 M773.0,753.2 L805.0,734.0 M773.0,768.2 L805.0,749.0 M773.0,783.2 L805.0,764.0 M773.0,798.2 L805.0,779.0 M773.0,813.2 L805.0,794.0 M773.0,828.2 L805.0,809.0" clip-path="url(#c26)" fill="none" stroke="#000" stroke-width="4.5"/>
<polyline points="730.4,797.0 803.0,797.0" fill="none" stroke="#000" stroke-width="4.5" stroke-linejoin="round" stroke-linecap="round"/>
<polyline points="723.0,814.0 730.0,797.0" fill="none" stroke="#000" stroke-width="4.5" stroke-linejoin="round" stroke-linecap="round"/>
<polyline points="493.0,788.6 517.7,809.3" fill="none" stroke="#000" stroke-width="4.5" stroke-linejoin="round" stroke-linecap="round"/>
<path d="M495.0,584.3 L719.0,779.1 M495.0,620.3 L719.0,815.1 M495.0,656.3 L719.0,851.1 M495.0,692.3 L719.0,887.1 M495.0,728.3 L719.0,923.1 M495.0,764.3 L719.0,959.1 M495.0,800.3 L719.0,995.1 M495.0,836.3 L719.0,1031.1 M495.0,872.3 L719.0,1067.1 M495.0,908.3 L719.0,1103.1 M495.0,944.3 L719.0,1139.1 M495.0,980.3 L719.0,1175.1 M495.0,1016.3 L719.0,1211.1 M495.0,1052.3 L719.0,1247.1 M495.0,1088.3 L719.0,1283.1 M495.0,1124.3 L719.0,1319.1 M495.0,1160.3 L719.0,1355.1 M495.0,1196.3 L719.0,1391.1 M495.0,1232.3 L719.0,1427.1 M495.0,1268.3 L719.0,1463.1 M495.0,1304.3 L719.0,1499.1 M495.0,1340.3 L719.0,1535.1 M495.0,1376.3 L719.0,1571.1" clip-path="url(#c27)" fill="none" stroke="#000" stroke-width="4.5"/>
<path d="M469.0,790.1 L519.4,762.4 M469.0,817.1 L519.4,789.4 M469.0,844.1 L519.4,816.4 M469.0,871.1 L519.4,843.4 M469.0,898.1 L519.4,870.4 M469.0,925.1 L519.4,897.4 M469.0,952.1 L519.4,924.4 M469.0,979.1 L519.4,951.4 M469.0,1006.1 L519.4,978.4 M469.0,1033.1 L519.4,1005.4" clip-path="url(#c28)" fill="none" stroke="#000" stroke-width="4.5"/>
<polygon points="471.0,838.7 517.4,838.7 517.4,987.0 471.0,987.0" fill="none" stroke="#000" stroke-width="4.5" stroke-linejoin="round" stroke-linecap="round"/>
<path d="M698.0,799.1 L750.4,770.3 M698.0,826.1 L750.4,797.3 M698.0,853.1 L750.4,824.3 M698.0,880.1 L750.4,851.3 M698.0,907.1 L750.4,878.3 M698.0,934.1 L750.4,905.3 M698.0,961.1 L750.4,932.3 M698.0,988.1 L750.4,959.3 M698.0,1015.1 L750.4,986.3 M698.0,1042.1 L750.4,1013.3" clip-path="url(#c29)" fill="none" stroke="#000" stroke-width="4.5"/>
<polygon points="700.0,842.0 748.4,842.0 748.4,994.0 700.0,994.0" fill="none" stroke="#000" stroke-width="4.5" stroke-linejoin="round" stroke-linecap="round"/>
<line x1="497.0" y1="809.0" x2="497.0" y2="838.7" stroke="#000" stroke-width="4.5" stroke-linecap="round"/>
<line x1="717.3" y1="814.0" x2="717.3" y2="842.0" stroke="#000" stroke-width="4.5" stroke-linecap="round"/>
<polyline points="699.0,843.0 749.0,843.0" fill="none" stroke="#000" stroke-width="4.5" stroke-linejoin="round" stroke-linecap="round"/>
<path d="M510.0,950.8 L535.0,928.3 M510.0,962.8 L535.0,940.3 M510.0,974.8 L535.0,952.3 M510.0,986.8 L535.0,964.3 M510.0,998.8 L535.0,976.3 M510.0,1010.8 L535.0,988.3 M510.0,1022.8 L535.0,1000.3 M510.0,1034.8 L535.0,1012.3 M510.0,1046.8 L535.0,1024.3 M510.0,1058.8 L535.0,1036.3" clip-path="url(#c30)" fill="none" stroke="#000" stroke-width="4.5"/>
<polygon points="512.0,990.5 533.0,990.5 533.0,1029.0 512.0,1029.0" fill="none" stroke="#000" stroke-width="4.5" stroke-linejoin="round" stroke-linecap="round"/>
<path d="M670.0,952.8 L700.3,925.5 M670.0,964.8 L700.3,937.5 M670.0,976.8 L700.3,949.5 M670.0,988.8 L700.3,961.5 M670.0,1000.8 L700.3,973.5 M670.0,1012.8 L700.3,985.5 M670.0,1024.8 L700.3,997.5 M670.0,1036.8 L700.3,1009.5 M670.0,1048.8 L700.3,1021.5 M670.0,1060.8 L700.3,1033.5" clip-path="url(#c31)" fill="none" stroke="#000" stroke-width="4.5"/>
<polygon points="672.0,993.0 698.3,993.0 698.3,1032.0 672.0,1032.0" fill="none" stroke="#000" stroke-width="4.5" stroke-linejoin="round" stroke-linecap="round"/>
<polyline points="310.0,830.0 357.0,826.0 439.0,826.0" fill="none" stroke="#000" stroke-width="4.5" stroke-linejoin="round" stroke-linecap="round"/>
<polyline points="357.3,826.0 355.0,947.0 353.5,1141.5" fill="none" stroke="#000" stroke-width="4.5" stroke-linejoin="round" stroke-linecap="round"/>
<polyline points="439.0,826.0 438.0,947.0 436.3,1141.5 436.0,1153.0 455.6,1155.0" fill="none" stroke="#000" stroke-width="4.5" stroke-linejoin="round" stroke-linecap="round"/>
<polyline points="355.0,947.4 441.5,947.4" fill="none" stroke="#000" stroke-width="4.5" stroke-linejoin="round" stroke-linecap="round"/>
<polyline points="369.0,828.0 436.0,851.0 360.4,870.0 431.0,894.0 362.0,916.0 431.0,942.0" fill="none" stroke="#000" stroke-width="3.6" stroke-linejoin="round" stroke-linecap="round"/>
<polyline points="304.5,1141.7 436.0,1141.7" fill="none" stroke="#000" stroke-width="4.5" stroke-linejoin="round" stroke-linecap="round"/>
<rect x="317.0" y="906.0" width="28.0" height="91.4" fill="none" stroke="#000" stroke-width="4.5"/>
<polyline points="331.8,997.4 332.8,1121.0" fill="none" stroke="#000" stroke-width="3.6" stroke-linejoin="round" stroke-linecap="round"/>
<polyline points="332.8,1113.0 351.8,1114.0" fill="none" stroke="#000" stroke-width="3.6" stroke-linejoin="round" stroke-linecap="round"/>
<line x1="457.0" y1="1029.0" x2="457.0" y2="1155.0" stroke="#000" stroke-width="4.5" stroke-linecap="round"/>
<line x1="442.0" y1="883.0" x2="447.0" y2="883.0" stroke="#000" stroke-width="5.0" stroke-linecap="round"/>
<line x1="460.0" y1="908.0" x2="465.0" y2="908.0" stroke="#000" stroke-width="5.0" stroke-linecap="round"/>
<polyline points="457.0,1029.0 531.0,1029.0" fill="none" stroke="#000" stroke-width="4.5" stroke-linejoin="round" stroke-linecap="round"/>
<line x1="531.0" y1="1029.0" x2="531.0" y2="1173.8" stroke="#000" stroke-width="4.5" stroke-linecap="round"/>
<path d="M457.0,926.4 L533.0,835.2 M457.0,946.4 L533.0,855.2 M457.0,966.4 L533.0,875.2 M457.0,986.4 L533.0,895.2 M457.0,1006.4 L533.0,915.2 M457.0,1026.4 L533.0,935.2 M457.0,1046.4 L533.0,955.2 M457.0,1066.4 L533.0,975.2 M457.0,1086.4 L533.0,995.2 M457.0,1106.4 L533.0,1015.2 M457.0,1126.4 L533.0,1035.2 M457.0,1146.4 L533.0,1055.2" clip-path="url(#c32)" fill="none" stroke="#000" stroke-width="4.5"/>
<line x1="459.0" y1="1050.0" x2="531.0" y2="1050.0" stroke="#000" stroke-width="4.5" stroke-linecap="round"/>
<circle cx="495.0" cy="1074.0" r="25.0" fill="#fff" stroke="#000" stroke-width="4.5"/>
<line x1="457.0" y1="1098.0" x2="531.0" y2="1098.0" stroke="#000" stroke-width="4.5" stroke-linecap="round"/>
<path d="M419.5,972.1 L533.0,1079.9 M419.5,989.1 L533.0,1096.9 M419.5,1006.1 L533.0,1113.9 M419.5,1023.1 L533.0,1130.9 M419.5,1040.1 L533.0,1147.9 M419.5,1057.1 L533.0,1164.9 M419.5,1074.1 L533.0,1181.9 M419.5,1091.1 L533.0,1198.9 M419.5,1108.1 L533.0,1215.9 M419.5,1125.1 L533.0,1232.9 M419.5,1142.1 L533.0,1249.9 M419.5,1159.1 L533.0,1266.9 M419.5,1176.1 L533.0,1283.9 M419.5,1193.1 L533.0,1300.9 M419.5,1210.1 L533.0,1317.9 M419.5,1227.1 L533.0,1334.9 M419.5,1244.1 L533.0,1351.9 M419.5,1261.1 L533.0,1368.9 M419.5,1278.1 L533.0,1385.9 M419.5,1295.1 L533.0,1402.9 M419.5,1312.1 L533.0,1419.9" clip-path="url(#c33)" fill="none" stroke="#000" stroke-width="4.5"/>
<polyline points="455.6,1158.0 421.5,1179.0 421.5,1232.0" fill="none" stroke="#000" stroke-width="4.5" stroke-linejoin="round" stroke-linecap="round"/>
<polyline points="670.7,1032.8 751.8,1032.8 750.0,1159.3" fill="none" stroke="#000" stroke-width="4.5" stroke-linejoin="round" stroke-linecap="round"/>
<line x1="670.7" y1="1032.0" x2="670.7" y2="1173.8" stroke="#000" stroke-width="4.5" stroke-linecap="round"/>
<path d="M670.0,911.4 L753.0,811.8 M670.0,931.4 L753.0,831.8 M670.0,951.4 L753.0,851.8 M670.0,971.4 L753.0,871.8 M670.0,991.4 L753.0,891.8 M670.0,1011.4 L753.0,911.8 M670.0,1031.4 L753.0,931.8 M670.0,1051.4 L753.0,951.8 M670.0,1071.4 L753.0,971.8 M670.0,1091.4 L753.0,991.8 M670.0,1111.4 L753.0,1011.8 M670.0,1131.4 L753.0,1031.8 M670.0,1151.4 L753.0,1051.8" clip-path="url(#c34)" fill="none" stroke="#000" stroke-width="4.5"/>
<line x1="672.0" y1="1053.5" x2="751.0" y2="1053.5" stroke="#000" stroke-width="4.5" stroke-linecap="round"/>
<circle cx="710.4" cy="1077.6" r="23.5" fill="#fff" stroke="#000" stroke-width="4.5"/>
<line x1="672.0" y1="1102.8" x2="751.0" y2="1102.8" stroke="#000" stroke-width="4.5" stroke-linecap="round"/>
<path d="M667.7,978.1 L785.5,1090.0 M667.7,995.1 L785.5,1107.0 M667.7,1012.1 L785.5,1124.0 M667.7,1029.1 L785.5,1141.0 M667.7,1046.1 L785.5,1158.0 M667.7,1063.1 L785.5,1175.0 M667.7,1080.1 L785.5,1192.0 M667.7,1097.1 L785.5,1209.0 M667.7,1114.1 L785.5,1226.0 M667.7,1131.1 L785.5,1243.0 M667.7,1148.1 L785.5,1260.0 M667.7,1165.1 L785.5,1277.0 M667.7,1182.1 L785.5,1294.0 M667.7,1199.1 L785.5,1311.0 M667.7,1216.1 L785.5,1328.0 M667.7,1233.1 L785.5,1345.0 M667.7,1250.1 L785.5,1362.0 M667.7,1267.1 L785.5,1379.0 M667.7,1284.1 L785.5,1396.0 M667.7,1301.1 L785.5,1413.0 M667.7,1318.1 L785.5,1430.0" clip-path="url(#c35)" fill="none" stroke="#000" stroke-width="4.5"/>
<polyline points="749.4,1159.3 783.5,1199.7" fill="none" stroke="#000" stroke-width="4.5" stroke-linejoin="round" stroke-linecap="round"/>
<polyline points="749.4,1159.3 867.4,1159.3" fill="none" stroke="#000" stroke-width="4.5" stroke-linejoin="round" stroke-linecap="round"/>
<line x1="703.0" y1="1136.0" x2="750.0" y2="1133.0" stroke="#000" stroke-width="3.0" stroke-linecap="round"/>
<polyline points="513.6,1173.8 689.0,1173.8" fill="none" stroke="#000" stroke-width="4.5" stroke-linejoin="round" stroke-linecap="round"/>
<polyline points="517.7,1173.8 517.7,1198.7" fill="none" stroke="#000" stroke-width="4.5" stroke-linejoin="round" stroke-linecap="round"/>
<polyline points="689.3,1173.8 689.3,1201.8" fill="none" stroke="#000" stroke-width="4.5" stroke-linejoin="round" stroke-linecap="round"/>
<polyline points="421.5,1198.7 782.5,1201.8" fill="none" stroke="#000" stroke-width="4.5" stroke-linejoin="round" stroke-linecap="round"/>
<line x1="495.0" y1="1203.0" x2="495.0" y2="1287.0" stroke="#000" stroke-width="4.5" stroke-linecap="round"/>
<circle cx="466.0" cy="1241.0" r="38.4" fill="#fff" stroke="#000" stroke-width="4.5"/>
<polyline points="421.5,1232.0 421.5,1198.7" fill="none" stroke="#000" stroke-width="4.5" stroke-linejoin="round" stroke-linecap="round"/>
<line x1="519.8" y1="1203.0" x2="519.8" y2="1287.0" stroke="#000" stroke-width="4.5" stroke-linecap="round"/>
<polyline points="441.0,1287.0 700.0,1288.0 760.0,1288.0" fill="none" stroke="#000" stroke-width="4.5" stroke-linejoin="round" stroke-linecap="round"/>
<path d="M716.3,1205 C748,1203 772,1220 772,1245 C772,1270 748,1285 716.3,1283" fill="none" stroke="#000" stroke-width="4.5" stroke-linejoin="round" stroke-linecap="round"/>
<line x1="716.3" y1="1203.0" x2="716.3" y2="1288.0" stroke="#000" stroke-width="4.5" stroke-linecap="round"/>
<line x1="694.5" y1="1201.8" x2="694.5" y2="1288.0" stroke="#000" stroke-width="4.5" stroke-linecap="round"/>
<polyline points="780.4,1201.8 780.4,1236.0 821.8,1236.0" fill="none" stroke="#000" stroke-width="4.5" stroke-linejoin="round" stroke-linecap="round"/>
<polyline points="331.4,1141.7 331.4,1422.8" fill="none" stroke="#000" stroke-width="4.5" stroke-linejoin="round" stroke-linecap="round"/>
<polyline points="349.0,1141.7 348.0,1422.8" fill="none" stroke="#000" stroke-width="4.5" stroke-linejoin="round" stroke-linecap="round"/>
<polyline points="352.5,1141.7 351.5,1422.8" fill="none" stroke="#000" stroke-width="3.0" stroke-linejoin="round" stroke-linecap="round"/>
<polyline points="329.0,1422.8 358.0,1422.8" fill="none" stroke="#000" stroke-width="4.5" stroke-linejoin="round" stroke-linecap="round"/>
<line x1="338.3" y1="1422.8" x2="338.3" y2="1431.0" stroke="#000" stroke-width="4.5" stroke-linecap="round"/>
<path d="M357.4,1073.0 L393.4,1109.0 M357.4,1094.0 L393.4,1130.0 M357.4,1115.0 L393.4,1151.0 M357.4,1136.0 L393.4,1172.0 M357.4,1157.0 L393.4,1193.0 M357.4,1178.0 L393.4,1214.0 M357.4,1199.0 L393.4,1235.0 M357.4,1220.0 L393.4,1256.0 M357.4,1241.0 L393.4,1277.0 M357.4,1262.0 L393.4,1298.0 M357.4,1283.0 L393.4,1319.0 M357.4,1304.0 L393.4,1340.0 M357.4,1325.0 L393.4,1361.0 M357.4,1346.0 L393.4,1382.0" clip-path="url(#c36)" fill="none" stroke="#000" stroke-width="4.5"/>
<polyline points="359.4,1141.7 360.4,1304.5 391.4,1309.7 360.4,1279.7" fill="none" stroke="#000" stroke-width="4.5" stroke-linejoin="round" stroke-linecap="round"/>
<polyline points="382.0,1141.7 383.2,1408.0" fill="none" stroke="#000" stroke-width="4.5" stroke-linejoin="round" stroke-linecap="round"/>
<polyline points="383.0,1226.0 421.5,1229.0" fill="none" stroke="#000" stroke-width="4.5" stroke-linejoin="round" stroke-linecap="round"/>
<line x1="416.0" y1="1155.0" x2="418.5" y2="1155.0" stroke="#000" stroke-width="4.0" stroke-linecap="round"/>
<path d="M381.2,1077.1 L534.0,954.9 M381.2,1096.6 L534.0,974.4 M381.2,1116.1 L534.0,993.9 M381.2,1135.6 L534.0,1013.4 M381.2,1155.1 L534.0,1032.9 M381.2,1174.6 L534.0,1052.4 M381.2,1194.1 L534.0,1071.9 M381.2,1213.6 L534.0,1091.4 M381.2,1233.1 L534.0,1110.9 M381.2,1252.6 L534.0,1130.4 M381.2,1272.1 L534.0,1149.9 M381.2,1291.6 L534.0,1169.4 M381.2,1311.1 L534.0,1188.9 M381.2,1330.6 L534.0,1208.4 M381.2,1350.1 L534.0,1227.9 M381.2,1369.6 L534.0,1247.4 M381.2,1389.1 L534.0,1266.9 M381.2,1408.6 L534.0,1286.4 M381.2,1428.1 L534.0,1305.9 M381.2,1447.6 L534.0,1325.4 M381.2,1467.1 L534.0,1344.9 M381.2,1486.6 L534.0,1364.4 M381.2,1506.1 L534.0,1383.9 M381.2,1525.6 L534.0,1403.4 M381.2,1545.1 L534.0,1422.9 M381.2,1564.6 L534.0,1442.4 M381.2,1584.1 L534.0,1461.9 M381.2,1603.6 L534.0,1481.4 M381.2,1623.1 L534.0,1500.9 M381.2,1642.6 L534.0,1520.4" clip-path="url(#c37)" fill="none" stroke="#000" stroke-width="4.5"/>
<polyline points="402.8,1231.8 443.2,1285.0" fill="none" stroke="#000" stroke-width="4.5" stroke-linejoin="round" stroke-linecap="round"/>
<polyline points="401.8,1260.0 401.8,1318.0" fill="none" stroke="#000" stroke-width="4.5" stroke-linejoin="round" stroke-linecap="round"/>
<rect x="379.0" y="1272.4" width="22.8" height="8.3" fill="none" stroke="#000" stroke-width="3.0"/>
<polyline points="383.2,1334.5 422.5,1334.5" fill="none" stroke="#000" stroke-width="4.5" stroke-linejoin="round" stroke-linecap="round"/>
<polyline points="532.0,1287.0 532.0,1486.0 670.0,1486.0" fill="none" stroke="#000" stroke-width="4.5" stroke-linejoin="round" stroke-linecap="round"/>
<path d="M364.6,1179.8 L472.0,1297.9 M364.6,1203.8 L472.0,1321.9 M364.6,1227.8 L472.0,1345.9 M364.6,1251.8 L472.0,1369.9 M364.6,1275.8 L472.0,1393.9 M364.6,1299.8 L472.0,1417.9 M364.6,1323.8 L472.0,1441.9 M364.6,1347.8 L472.0,1465.9 M364.6,1371.8 L472.0,1489.9 M364.6,1395.8 L472.0,1513.9 M364.6,1419.8 L472.0,1537.9 M364.6,1443.8 L472.0,1561.9 M364.6,1467.8 L472.0,1585.9 M364.6,1491.8 L472.0,1609.9 M364.6,1515.8 L472.0,1633.9 M364.6,1539.8 L472.0,1657.9" clip-path="url(#c38)" fill="none" stroke="#000" stroke-width="4.5"/>
<polyline points="383.2,1385.0 366.6,1385.0 366.6,1408.0 464.6,1408.3" fill="none" stroke="#000" stroke-width="4.5" stroke-linejoin="round" stroke-linecap="round"/>
<rect x="421.5" y="1337.6" width="48.5" height="42.4" fill="#fff" stroke="#000" stroke-width="4.5"/>
<circle cx="448.4" cy="1355.2" r="22.8" fill="#fff" stroke="#000" stroke-width="4.5"/>
<polyline points="470.0,1337.6 470.0,1410.0 467.7,1437.0 467.7,1504.0" fill="none" stroke="#000" stroke-width="4.5" stroke-linejoin="round" stroke-linecap="round"/>
<rect x="457.0" y="1419.0" width="23.0" height="19.0" fill="#fff" stroke="#000" stroke-width="4.5"/>
<line x1="462.0" y1="1424.0" x2="474.0" y2="1434.0" stroke="#000" stroke-width="3.0" stroke-linecap="round"/>
<polyline points="467.7,1503.5 532.0,1503.5" fill="none" stroke="#000" stroke-width="4.5" stroke-linejoin="round" stroke-linecap="round"/>
<polyline points="822.9,1159.0 821.8,1290.0" fill="none" stroke="#000" stroke-width="4.5" stroke-linejoin="round" stroke-linecap="round"/>
<polyline points="838.4,1159.0 837.4,1421.0" fill="none" stroke="#000" stroke-width="4.5" stroke-linejoin="round" stroke-linecap="round"/>
<polyline points="866.4,1159.0 865.3,1300.0 864.0,1427.0" fill="none" stroke="#000" stroke-width="4.5" stroke-linejoin="round" stroke-linecap="round"/>
<path d="M819.8,1115.0 L840.4,1135.6 M819.8,1145.0 L840.4,1165.6 M819.8,1175.0 L840.4,1195.6 M819.8,1205.0 L840.4,1225.6 M819.8,1235.0 L840.4,1255.6 M819.8,1265.0 L840.4,1285.6 M819.8,1295.0 L840.4,1315.6 M819.8,1325.0 L840.4,1345.6" clip-path="url(#c39)" fill="none" stroke="#000" stroke-width="4.5"/>
<path d="M666.0,1093.6 L823.8,967.4 M666.0,1112.6 L823.8,986.4 M666.0,1131.6 L823.8,1005.4 M666.0,1150.6 L823.8,1024.4 M666.0,1169.6 L823.8,1043.4 M666.0,1188.6 L823.8,1062.4 M666.0,1207.6 L823.8,1081.4 M666.0,1226.6 L823.8,1100.4 M666.0,1245.6 L823.8,1119.4 M666.0,1264.6 L823.8,1138.4 M666.0,1283.6 L823.8,1157.4 M666.0,1302.6 L823.8,1176.4 M666.0,1321.6 L823.8,1195.4 M666.0,1340.6 L823.8,1214.4 M666.0,1359.6 L823.8,1233.4 M666.0,1378.6 L823.8,1252.4 M666.0,1397.6 L823.8,1271.4 M666.0,1416.6 L823.8,1290.4 M666.0,1435.6 L823.8,1309.4 M666.0,1454.6 L823.8,1328.4 M666.0,1473.6 L823.8,1347.4 M666.0,1492.6 L823.8,1366.4 M666.0,1511.6 L823.8,1385.4 M666.0,1530.6 L823.8,1404.4 M666.0,1549.6 L823.8,1423.4 M666.0,1568.6 L823.8,1442.4 M666.0,1587.6 L823.8,1461.4 M666.0,1606.6 L823.8,1480.4 M666.0,1625.6 L823.8,1499.4 M666.0,1644.6 L823.8,1518.4" clip-path="url(#c40)" fill="none" stroke="#000" stroke-width="4.5"/>
<polyline points="759.7,1288.0 790.0,1246.0 800.0,1236.0" fill="none" stroke="#000" stroke-width="4.5" stroke-linejoin="round" stroke-linecap="round"/>
<polyline points="821.8,1236.0 821.8,1280.0 797.0,1278.0 797.0,1336.6" fill="none" stroke="#000" stroke-width="4.5" stroke-linejoin="round" stroke-linecap="round"/>
<polyline points="797.0,1281.0 821.8,1281.0" fill="none" stroke="#000" stroke-width="3.0" stroke-linejoin="round" stroke-linecap="round"/>
<polyline points="803.2,1291.0 819.8,1307.6" fill="none" stroke="#000" stroke-width="4.5" stroke-linejoin="round" stroke-linecap="round"/>
<polyline points="813.6,1308.7 838.4,1308.7" fill="none" stroke="#000" stroke-width="4.5" stroke-linejoin="round" stroke-linecap="round"/>
<polyline points="813.6,1308.7 813.6,1388.4 828.0,1388.4 828.0,1414.0 743.0,1414.0" fill="none" stroke="#000" stroke-width="4.5" stroke-linejoin="round" stroke-linecap="round"/>
<polyline points="772.0,1339.7 811.5,1339.7" fill="none" stroke="#000" stroke-width="4.5" stroke-linejoin="round" stroke-linecap="round"/>
<path d="M727.7,1211.8 L830.0,1324.3 M727.7,1235.8 L830.0,1348.3 M727.7,1259.8 L830.0,1372.3 M727.7,1283.8 L830.0,1396.3 M727.7,1307.8 L830.0,1420.3 M727.7,1331.8 L830.0,1444.3 M727.7,1355.8 L830.0,1468.3 M727.7,1379.8 L830.0,1492.3 M727.7,1403.8 L830.0,1516.3 M727.7,1427.8 L830.0,1540.3 M727.7,1451.8 L830.0,1564.3 M727.7,1475.8 L830.0,1588.3 M727.7,1499.8 L830.0,1612.3 M727.7,1523.8 L830.0,1636.3" clip-path="url(#c41)" fill="none" stroke="#000" stroke-width="4.5"/>
<rect x="729.7" y="1340.0" width="47.6" height="42.0" fill="#fff" stroke="#000" stroke-width="4.5"/>
<circle cx="753.5" cy="1354.2" r="22.8" fill="#fff" stroke="#000" stroke-width="4.5"/>
<polyline points="728.7,1340.0 727.2,1507.0" fill="none" stroke="#000" stroke-width="4.5" stroke-linejoin="round" stroke-linecap="round"/>
<polyline points="669.7,1288.0 669.7,1486.0" fill="none" stroke="#000" stroke-width="4.5" stroke-linejoin="round" stroke-linecap="round"/>
<rect x="717.0" y="1419.0" width="25.0" height="21.0" fill="#fff" stroke="#000" stroke-width="4.5"/>
<line x1="722.0" y1="1428.0" x2="734.0" y2="1436.0" stroke="#000" stroke-width="3.0" stroke-linecap="round"/>
<polyline points="668.0,1505.0 727.0,1507.0" fill="none" stroke="#000" stroke-width="4.5" stroke-linejoin="round" stroke-linecap="round"/>
<path d="M496.7,1433.6 L543.0,1465.1 M496.7,1460.6 L543.0,1492.1 M496.7,1487.6 L543.0,1519.1 M496.7,1514.6 L543.0,1546.1 M496.7,1541.6 L543.0,1573.1 M496.7,1568.6 L543.0,1600.1 M496.7,1595.6 L543.0,1627.1 M496.7,1622.6 L543.0,1654.1 M496.7,1649.6 L543.0,1681.1 M496.7,1676.6 L543.0,1708.1 M496.7,1703.6 L543.0,1735.1 M496.7,1730.6 L543.0,1762.1 M496.7,1757.6 L543.0,1789.1 M496.7,1784.6 L543.0,1816.1 M496.7,1811.6 L543.0,1843.1 M496.7,1838.6 L543.0,1870.1 M496.7,1865.6 L543.0,1897.1 M496.7,1892.6 L543.0,1924.1 M496.7,1919.6 L543.0,1951.1 M496.7,1946.6 L543.0,1978.1 M496.7,1973.6 L543.0,2005.1 M496.7,2000.6 L543.0,2032.1 M496.7,2027.6 L543.0,2059.1 M496.7,2054.6 L543.0,2086.1 M496.7,2081.6 L543.0,2113.1 M496.7,2108.6 L543.0,2140.1 M496.7,2135.6 L543.0,2167.1 M496.7,2162.6 L543.0,2194.1 M496.7,2189.6 L543.0,2221.1 M496.7,2216.6 L543.0,2248.1 M496.7,2243.6 L543.0,2275.1 M496.7,2270.6 L543.0,2302.1 M496.7,2297.6 L543.0,2329.1 M496.7,2324.6 L543.0,2356.1 M496.7,2351.6 L543.0,2383.1 M496.7,2378.6 L543.0,2410.1 M496.7,2405.6 L543.0,2437.1" clip-path="url(#c42)" fill="none" stroke="#000" stroke-width="4.5"/>
<polygon points="499.8,1503.5 541.0,1503.5 538.8,1800.0 536.7,2367.0 498.7,2367.0 499.0,1800.0" fill="none" stroke="#000" stroke-width="4.5" stroke-linejoin="round" stroke-linecap="round"/>
<path d="M657.0,1445.6 L696.0,1472.2 M657.0,1472.6 L696.0,1499.2 M657.0,1499.6 L696.0,1526.2 M657.0,1526.6 L696.0,1553.2 M657.0,1553.6 L696.0,1580.2 M657.0,1580.6 L696.0,1607.2 M657.0,1607.6 L696.0,1634.2 M657.0,1634.6 L696.0,1661.2 M657.0,1661.6 L696.0,1688.2 M657.0,1688.6 L696.0,1715.2 M657.0,1715.6 L696.0,1742.2 M657.0,1742.6 L696.0,1769.2 M657.0,1769.6 L696.0,1796.2 M657.0,1796.6 L696.0,1823.2 M657.0,1823.6 L696.0,1850.2 M657.0,1850.6 L696.0,1877.2 M657.0,1877.6 L696.0,1904.2 M657.0,1904.6 L696.0,1931.2 M657.0,1931.6 L696.0,1958.2 M657.0,1958.6 L696.0,1985.2 M657.0,1985.6 L696.0,2012.2 M657.0,2012.6 L696.0,2039.2 M657.0,2039.6 L696.0,2066.2 M657.0,2066.6 L696.0,2093.2 M657.0,2093.6 L696.0,2120.2 M657.0,2120.6 L696.0,2147.2 M657.0,2147.6 L696.0,2174.2 M657.0,2174.6 L696.0,2201.2 M657.0,2201.6 L696.0,2228.2 M657.0,2228.6 L696.0,2255.2 M657.0,2255.6 L696.0,2282.2 M657.0,2282.6 L696.0,2309.2 M657.0,2309.6 L696.0,2336.2 M657.0,2336.6 L696.0,2363.2 M657.0,2363.6 L696.0,2390.2 M657.0,2390.6 L696.0,2417.2" clip-path="url(#c43)" fill="none" stroke="#000" stroke-width="4.5"/>
<polyline points="694.0,1505.0 694.0,1800.0 690.6,2367.0 659.0,2367.0 659.6,1800.0 659.7,1486.0" fill="none" stroke="#000" stroke-width="4.5" stroke-linejoin="round" stroke-linecap="round"/>
<line x1="573.0" y1="1486.0" x2="571.6" y2="1688.0" stroke="#000" stroke-width="4.5" stroke-linecap="round"/>
<line x1="621.6" y1="1486.0" x2="618.0" y2="1688.0" stroke="#000" stroke-width="4.5" stroke-linecap="round"/>
<polyline points="538.8,1682.0 659.6,1683.0" fill="none" stroke="#000" stroke-width="4.5" stroke-linejoin="round" stroke-linecap="round"/>
<polyline points="536.7,2137.0 659.0,2137.0" fill="none" stroke="#000" stroke-width="4.5" stroke-linejoin="round" stroke-linecap="round"/>
<line x1="574.6" y1="2137.0" x2="574.6" y2="2367.0" stroke="#000" stroke-width="4.5" stroke-linecap="round"/>
<line x1="623.0" y1="2137.0" x2="623.0" y2="2367.0" stroke="#000" stroke-width="4.5" stroke-linecap="round"/>
<polyline points="498.7,2367.0 690.6,2367.0" fill="none" stroke="#000" stroke-width="4.5" stroke-linejoin="round" stroke-linecap="round"/>
<path d="M323.0,1218.6 L469.3,1394.2 M323.0,1249.6 L469.3,1425.2 M323.0,1280.6 L469.3,1456.2 M323.0,1311.6 L469.3,1487.2 M323.0,1342.6 L469.3,1518.2 M323.0,1373.6 L469.3,1549.2 M323.0,1404.6 L469.3,1580.2 M323.0,1435.6 L469.3,1611.2 M323.0,1466.6 L469.3,1642.2 M323.0,1497.6 L469.3,1673.2 M323.0,1528.6 L469.3,1704.2 M323.0,1559.6 L469.3,1735.2 M323.0,1590.6 L469.3,1766.2 M323.0,1621.6 L469.3,1797.2 M323.0,1652.6 L469.3,1828.2 M323.0,1683.6 L469.3,1859.2 M323.0,1714.6 L469.3,1890.2 M323.0,1745.6 L469.3,1921.2 M323.0,1776.6 L469.3,1952.2 M323.0,1807.6 L469.3,1983.2 M323.0,1838.6 L469.3,2014.2 M323.0,1869.6 L469.3,2045.2 M323.0,1900.6 L469.3,2076.2 M323.0,1931.6 L469.3,2107.2 M323.0,1962.6 L469.3,2138.2 M323.0,1993.6 L469.3,2169.2 M323.0,2024.6 L469.3,2200.2 M323.0,2055.6 L469.3,2231.2 M323.0,2086.6 L469.3,2262.2 M323.0,2117.6 L469.3,2293.2 M323.0,2148.6 L469.3,2324.2 M323.0,2179.6 L469.3,2355.2 M323.0,2210.6 L469.3,2386.2 M323.0,2241.6 L469.3,2417.2 M323.0,2272.6 L469.3,2448.2" clip-path="url(#c44)" fill="none" stroke="#000" stroke-width="4.5"/>
<polyline points="337.3,1435.0 325.0,1449.7 325.0,1449.7 334.5,1459.1 325.0,1468.5 334.5,1477.8 325.0,1487.2 334.5,1496.6 325.0,1506.0 334.5,1515.3 325.0,1524.7 334.5,1534.1 325.0,1543.5 334.5,1552.8 325.0,1562.2 334.5,1571.6 325.0,1581.0 334.5,1590.4 325.0,1599.7 334.5,1609.1 325.0,1618.5 334.5,1627.9 325.0,1637.2 334.5,1646.6 325.0,1656.0 330.0,1660.0" fill="none" stroke="#000" stroke-width="4.5" stroke-linejoin="round" stroke-linecap="round"/>
<polyline points="337.3,1435.0 352.8,1468.0 355.0,1476.0" fill="none" stroke="#000" stroke-width="4.5" stroke-linejoin="round" stroke-linecap="round"/>
<polyline points="354.0,1403.0 355.0,1475.6" fill="none" stroke="#000" stroke-width="4.5" stroke-linejoin="round" stroke-linecap="round"/>
<polyline points="351.8,1476.0 403.6,1478.7" fill="none" stroke="#000" stroke-width="4.5" stroke-linejoin="round" stroke-linecap="round"/>
<polyline points="433.6,1480.0 466.7,1481.0" fill="none" stroke="#000" stroke-width="4.5" stroke-linejoin="round" stroke-linecap="round"/>
<polyline points="375.6,1478.7 373.0,1752.0" fill="none" stroke="#000" stroke-width="4.5" stroke-linejoin="round" stroke-linecap="round"/>
<polyline points="369.7,1751.8 495.7,1751.8" fill="none" stroke="#000" stroke-width="4.5" stroke-linejoin="round" stroke-linecap="round"/>
<polyline points="343.9,1660.0 343.9,1788.0 411.0,1788.0 412.0,2082.0 498.7,2082.0" fill="none" stroke="#000" stroke-width="4.5" stroke-linejoin="round" stroke-linecap="round"/>
<polyline points="456.0,1752.0 455.0,1870.0" fill="none" stroke="#000" stroke-width="4.5" stroke-linejoin="round" stroke-linecap="round"/>
<polyline points="467.3,1942.0 465.0,2082.0" fill="none" stroke="#000" stroke-width="4.5" stroke-linejoin="round" stroke-linecap="round"/>
<path d="M718.0,1261.3 L873.0,1393.0 M718.0,1291.3 L873.0,1423.0 M718.0,1321.3 L873.0,1453.0 M718.0,1351.3 L873.0,1483.0 M718.0,1381.3 L873.0,1513.0 M718.0,1411.3 L873.0,1543.0 M718.0,1441.3 L873.0,1573.0 M718.0,1471.3 L873.0,1603.0 M718.0,1501.3 L873.0,1633.0 M718.0,1531.3 L873.0,1663.0 M718.0,1561.3 L873.0,1693.0 M718.0,1591.3 L873.0,1723.0 M718.0,1621.3 L873.0,1753.0 M718.0,1651.3 L873.0,1783.0 M718.0,1681.3 L873.0,1813.0 M718.0,1711.3 L873.0,1843.0 M718.0,1741.3 L873.0,1873.0 M718.0,1771.3 L873.0,1903.0 M718.0,1801.3 L873.0,1933.0 M718.0,1831.3 L873.0,1963.0 M718.0,1861.3 L873.0,1993.0 M718.0,1891.3 L873.0,2023.0 M718.0,1921.3 L873.0,2053.1 M718.0,1951.3 L873.0,2083.1 M718.0,1981.3 L873.0,2113.1 M718.0,2011.3 L873.0,2143.1 M718.0,2041.3 L873.0,2173.1 M718.0,2071.3 L873.0,2203.1 M718.0,2101.3 L873.0,2233.1 M718.0,2131.3 L873.0,2263.1 M718.0,2161.3 L873.0,2293.1 M718.0,2191.3 L873.0,2323.1 M718.0,2221.3 L873.0,2353.1" clip-path="url(#c45)" fill="none" stroke="#000" stroke-width="4.5"/>
<polyline points="844.2,1429.0 868.0,1429.0 871.0,1431.0 861.0,1441.5 871.0,1452.0 861.0,1462.5 871.0,1473.0 861.0,1483.5 871.0,1494.0 861.0,1504.5 871.0,1515.0 861.0,1525.5 871.0,1536.0 861.0,1546.5 871.0,1557.0 861.0,1567.5 871.0,1578.0 861.0,1588.5 871.0,1599.0 861.0,1609.5 871.0,1620.0 861.0,1630.5 871.0,1641.0 861.0,1651.5 871.0,1662.0" fill="none" stroke="#000" stroke-width="4.5" stroke-linejoin="round" stroke-linecap="round"/>
<polyline points="845.3,1429.0 845.3,1482.8" fill="none" stroke="#000" stroke-width="4.5" stroke-linejoin="round" stroke-linecap="round"/>
<polyline points="795.6,1482.8 844.2,1482.8" fill="none" stroke="#000" stroke-width="4.5" stroke-linejoin="round" stroke-linecap="round"/>
<polyline points="729.3,1482.8 759.3,1482.8" fill="none" stroke="#000" stroke-width="4.5" stroke-linejoin="round" stroke-linecap="round"/>
<polyline points="818.3,1485.0 815.0,1752.0" fill="none" stroke="#000" stroke-width="4.5" stroke-linejoin="round" stroke-linecap="round"/>
<polyline points="694.0,1752.0 815.0,1752.0" fill="none" stroke="#000" stroke-width="4.5" stroke-linejoin="round" stroke-linecap="round"/>
<polyline points="735.6,1752.0 735.7,1869.0" fill="none" stroke="#000" stroke-width="4.5" stroke-linejoin="round" stroke-linecap="round"/>
<polyline points="723.6,1944.0 720.0,2082.0" fill="none" stroke="#000" stroke-width="4.5" stroke-linejoin="round" stroke-linecap="round"/>
<polyline points="841.0,1666.0 929.0,1668.0" fill="none" stroke="#000" stroke-width="4.5" stroke-linejoin="round" stroke-linecap="round"/>
<polyline points="841.0,1666.0 840.8,1788.0 784.0,1790.0 783.4,2082.0 692.7,2082.0" fill="none" stroke="#000" stroke-width="4.5" stroke-linejoin="round" stroke-linecap="round"/>
<line x1="835.0" y1="1400.0" x2="835.0" y2="1420.7" stroke="#000" stroke-width="4.5" stroke-linecap="round"/>
<rect x="457.7" y="1870.4" width="41.3" height="71.6" fill="#fff" stroke="#000" stroke-width="4.5"/>
<line x1="457.7" y1="1870.4" x2="499.0" y2="1942.0" stroke="#000" stroke-width="3.4" stroke-linecap="round"/>
<line x1="499.0" y1="1870.4" x2="457.7" y2="1942.0" stroke="#000" stroke-width="3.4" stroke-linecap="round"/>
<rect x="480.0" y="1856.0" width="31.0" height="12.0" fill="none" stroke="#000" stroke-width="3.4"/>
<rect x="694.0" y="1869.0" width="39.7" height="75.0" fill="#fff" stroke="#000" stroke-width="4.5"/>
<line x1="694.0" y1="1869.0" x2="733.7" y2="1944.0" stroke="#000" stroke-width="3.4" stroke-linecap="round"/>
<line x1="733.7" y1="1869.0" x2="694.0" y2="1944.0" stroke="#000" stroke-width="3.4" stroke-linecap="round"/>
<rect x="682.0" y="1856.0" width="32.7" height="12.0" fill="none" stroke="#000" stroke-width="3.4"/>
<line x1="417.0" y1="1444.0" x2="417.0" y2="1467.0" stroke="#000" stroke-width="3.4" stroke-linecap="round"/>
<line x1="417.0" y1="1499.0" x2="417.0" y2="1529.0" stroke="#000" stroke-width="3.4" stroke-linecap="round"/>
<line x1="417.0" y1="1561.0" x2="417.0" y2="1597.0" stroke="#000" stroke-width="3.4" stroke-linecap="round"/>
<line x1="417.0" y1="1629.0" x2="417.0" y2="1665.0" stroke="#000" stroke-width="3.4" stroke-linecap="round"/>
<line x1="417.0" y1="1697.0" x2="417.0" y2="1725.0" stroke="#000" stroke-width="3.4" stroke-linecap="round"/>
<circle cx="417.0" cy="1428.0" r="15.5" fill="#fff" stroke="#000" stroke-width="4.5"/>
<path d="M406.0,1443.0 l11,-30 M416.0,1443.0 l11,-30" clip-path="url(#c47)" stroke="#000" stroke-width="5.5" fill="none"/>
<circle cx="417.0" cy="1483.0" r="15.5" fill="#fff" stroke="#000" stroke-width="4.5"/>
<path d="M406.0,1498.0 l11,-30 M416.0,1498.0 l11,-30" clip-path="url(#c49)" stroke="#000" stroke-width="5.5" fill="none"/>
<circle cx="417.0" cy="1545.0" r="15.5" fill="#fff" stroke="#000" stroke-width="4.5"/>
<path d="M406.0,1560.0 l11,-30 M416.0,1560.0 l11,-30" clip-path="url(#c51)" stroke="#000" stroke-width="5.5" fill="none"/>
<circle cx="417.0" cy="1613.0" r="15.5" fill="#fff" stroke="#000" stroke-width="4.5"/>
<path d="M406.0,1628.0 l11,-30 M416.0,1628.0 l11,-30" clip-path="url(#c53)" stroke="#000" stroke-width="5.5" fill="none"/>
<circle cx="417.0" cy="1681.0" r="15.5" fill="#fff" stroke="#000" stroke-width="4.5"/>
<path d="M406.0,1696.0 l11,-30 M416.0,1696.0 l11,-30" clip-path="url(#c55)" stroke="#000" stroke-width="5.5" fill="none"/>
<g clip-path="url(#c56)">
<circle cx="416.3" cy="1741.5" r="15.5" fill="#fff" stroke="#000" stroke-width="4.5"/>
<path d="M405.3,1756.5 l11,-30 M415.3,1756.5 l11,-30" clip-path="url(#c57)" stroke="#000" stroke-width="5.5" fill="none"/>
</g>
<line x1="775.0" y1="1447.0" x2="775.0" y2="1475.0" stroke="#000" stroke-width="3.4" stroke-linecap="round"/>
<line x1="775.0" y1="1507.0" x2="775.0" y2="1532.0" stroke="#000" stroke-width="3.4" stroke-linecap="round"/>
<line x1="775.0" y1="1564.0" x2="775.0" y2="1601.6" stroke="#000" stroke-width="3.4" stroke-linecap="round"/>
<line x1="775.0" y1="1633.6" x2="775.0" y2="1669.0" stroke="#000" stroke-width="3.4" stroke-linecap="round"/>
<line x1="775.0" y1="1701.0" x2="775.0" y2="1729.0" stroke="#000" stroke-width="3.4" stroke-linecap="round"/>
<circle cx="775.0" cy="1431.0" r="15.5" fill="#fff" stroke="#000" stroke-width="4.5"/>
<path d="M764.0,1446.0 l11,-30 M774.0,1446.0 l11,-30" clip-path="url(#c59)" stroke="#000" stroke-width="5.5" fill="none"/>
<circle cx="775.0" cy="1491.0" r="15.5" fill="#fff" stroke="#000" stroke-width="4.5"/>
<path d="M764.0,1506.0 l11,-30 M774.0,1506.0 l11,-30" clip-path="url(#c61)" stroke="#000" stroke-width="5.5" fill="none"/>
<circle cx="775.0" cy="1548.0" r="15.5" fill="#fff" stroke="#000" stroke-width="4.5"/>
<path d="M764.0,1563.0 l11,-30 M774.0,1563.0 l11,-30" clip-path="url(#c63)" stroke="#000" stroke-width="5.5" fill="none"/>
<circle cx="775.0" cy="1617.6" r="15.5" fill="#fff" stroke="#000" stroke-width="4.5"/>
<path d="M764.0,1632.6 l11,-30 M774.0,1632.6 l11,-30" clip-path="url(#c65)" stroke="#000" stroke-width="5.5" fill="none"/>
<circle cx="775.0" cy="1685.0" r="15.5" fill="#fff" stroke="#000" stroke-width="4.5"/>
<path d="M764.0,1700.0 l11,-30 M774.0,1700.0 l11,-30" clip-path="url(#c67)" stroke="#000" stroke-width="5.5" fill="none"/>
<g clip-path="url(#c68)">
<circle cx="775.0" cy="1745.0" r="15.5" fill="#fff" stroke="#000" stroke-width="4.5"/>
<path d="M764.0,1760.0 l11,-30 M774.0,1760.0 l11,-30" clip-path="url(#c69)" stroke="#000" stroke-width="5.5" fill="none"/>
</g>
<path d="M179.8,193.0 C166.8,203.8 156.4,219.9 162.9,230.6 C169.4,240.0 182.4,233.3 179.8,222.6 C177.2,214.5 166.8,215.8 161.6,225.2" fill="none" stroke="#000" stroke-width="5.3" stroke-linejoin="round" stroke-linecap="round"/>
<path d="M1084.6,292.0 L1071.6,315.9 C1079.6,312.7 1088.6,317.5 1086.6,325.5 C1084.6,335.0 1077.6,341.4 1067.6,343.0" fill="none" stroke="#000" stroke-width="5.3" stroke-linejoin="round" stroke-linecap="round"/>
<path d="M1082.6,302.2 L1100.6,299.0" fill="none" stroke="#000" stroke-width="5.3" stroke-linejoin="round" stroke-linecap="round"/>
<path d="M1122.0,287.0 Q1116.5,311.5 1114.0,336.0" fill="none" stroke="#000" stroke-width="5.3" stroke-linejoin="round" stroke-linecap="round"/>
<path d="M181.2,507.0 L146.0,545.5 L190.0,543.8" fill="none" stroke="#000" stroke-width="5.3" stroke-linejoin="round" stroke-linecap="round"/>
<path d="M176.8,517.5 L172.4,563.0" fill="none" stroke="#000" stroke-width="5.3" stroke-linejoin="round" stroke-linecap="round"/>
<path d="M1108.2,553.0 L1095.8,570.3 C1103.4,568.0 1112.0,571.5 1110.0,577.3 C1108.2,584.2 1101.5,588.8 1092.0,590.0" fill="none" stroke="#000" stroke-width="5.3" stroke-linejoin="round" stroke-linecap="round"/>
<path d="M1106.2,560.4 L1123.3,558.1" fill="none" stroke="#000" stroke-width="5.3" stroke-linejoin="round" stroke-linecap="round"/>
<path d="M1128.0,558.5 L1141.4,556.6 C1144.8,562.2 1137.8,568.4 1116.5,587.8 L1140.0,587.8" fill="none" stroke="#000" stroke-width="5.3" stroke-linejoin="round" stroke-linecap="round"/>
<path d="M1248.9,626.5 L1233.3,645.5 C1242.9,643.0 1253.7,646.8 1251.3,653.1 C1248.9,660.7 1240.5,665.7 1228.5,667.0" fill="none" stroke="#000" stroke-width="5.3" stroke-linejoin="round" stroke-linecap="round"/>
<path d="M1246.5,634.6 L1268.1,632.1" fill="none" stroke="#000" stroke-width="5.3" stroke-linejoin="round" stroke-linecap="round"/>
<path d="M145.0,699.0 L117.0,723.8 L152.0,722.6" fill="none" stroke="#000" stroke-width="5.3" stroke-linejoin="round" stroke-linecap="round"/>
<path d="M141.5,705.8 L138.0,735.0" fill="none" stroke="#000" stroke-width="5.3" stroke-linejoin="round" stroke-linecap="round"/>
<path d="M168.0,699.0 Q163.0,717.5 161.0,736.0" fill="none" stroke="#000" stroke-width="5.3" stroke-linejoin="round" stroke-linecap="round"/>
<path d="M116.0,776.2 L129.0,777.5 L113.0,792.5 L127.0,791.8 C130.0,800.0 120.0,811.2 110.0,813.8" fill="none" stroke="#000" stroke-width="5.3" stroke-linejoin="round" stroke-linecap="round"/>
<path d="M137.4,774.2 L149.1,775.4 L134.7,789.6 L147.3,788.9 C150.0,796.8 141.0,807.4 132.0,809.8" fill="none" stroke="#000" stroke-width="5.3" stroke-linejoin="round" stroke-linecap="round"/>
<path d="M1075.7,802.0 L1063.3,823.1 C1070.9,820.3 1079.5,824.5 1077.5,831.5 C1075.7,840.0 1069.0,845.6 1059.5,847.0" fill="none" stroke="#000" stroke-width="5.3" stroke-linejoin="round" stroke-linecap="round"/>
<path d="M1073.8,811.0 L1090.8,808.2" fill="none" stroke="#000" stroke-width="5.3" stroke-linejoin="round" stroke-linecap="round"/>
<path d="M1097.4,801.4 L1112.3,802.8 L1094.0,819.7 L1110.0,818.8 C1113.5,828.1 1102.0,840.8 1090.5,843.6" fill="none" stroke="#000" stroke-width="5.3" stroke-linejoin="round" stroke-linecap="round"/>
<path d="M50.5,890.5 L66.8,891.9 L46.8,909.6 L64.2,908.7 C68.0,918.4 55.5,931.6 43.0,934.5" fill="none" stroke="#000" stroke-width="5.3" stroke-linejoin="round" stroke-linecap="round"/>
<path d="M123.8,891.5 L140.7,892.9 L119.9,910.6 L138.1,909.7 C142.0,919.4 129.0,932.6 116.0,935.5" fill="none" stroke="#000" stroke-width="5.3" stroke-linejoin="round" stroke-linecap="round"/>
<path d="M150.1,898.6 L164.0,896.7 C167.4,902.6 160.2,909.1 138.2,929.7 L162.5,929.7" fill="none" stroke="#000" stroke-width="5.3" stroke-linejoin="round" stroke-linecap="round"/>
<path d="M143.4,1034.0 L155.1,1035.0 L140.7,1047.0 L153.3,1046.4 C156.0,1053.0 147.0,1062.0 138.0,1064.0" fill="none" stroke="#000" stroke-width="5.3" stroke-linejoin="round" stroke-linecap="round"/>
<path d="M176.0,1030.0 Q171.5,1049.0 170.0,1068.0" fill="none" stroke="#000" stroke-width="5.3" stroke-linejoin="round" stroke-linecap="round"/>
<path d="M1039.8,1068.0 L1026.2,1089.1 C1034.6,1086.3 1044.0,1090.5 1042.0,1097.5 C1039.8,1106.0 1032.5,1111.6 1022.0,1113.0" fill="none" stroke="#000" stroke-width="5.3" stroke-linejoin="round" stroke-linecap="round"/>
<path d="M1037.8,1077.0 L1056.7,1074.2" fill="none" stroke="#000" stroke-width="5.3" stroke-linejoin="round" stroke-linecap="round"/>
<path d="M1071.8,1069.0 L1047.0,1095.8 L1078.0,1094.6" fill="none" stroke="#000" stroke-width="5.3" stroke-linejoin="round" stroke-linecap="round"/>
<path d="M1068.7,1076.3 L1065.6,1108.0" fill="none" stroke="#000" stroke-width="5.3" stroke-linejoin="round" stroke-linecap="round"/>
<path d="M1092.8,1142.0 L1079.2,1163.1 C1087.6,1160.3 1097.0,1164.5 1095.0,1171.5 C1092.8,1180.0 1085.5,1185.6 1075.0,1187.0" fill="none" stroke="#000" stroke-width="5.3" stroke-linejoin="round" stroke-linecap="round"/>
<path d="M1090.8,1151.0 L1109.7,1148.2" fill="none" stroke="#000" stroke-width="5.3" stroke-linejoin="round" stroke-linecap="round"/>
<path d="M1122.8,1151.5 L1098.0,1178.0 L1129.0,1176.8" fill="none" stroke="#000" stroke-width="5.3" stroke-linejoin="round" stroke-linecap="round"/>
<path d="M1119.7,1158.7 L1116.6,1190.0" fill="none" stroke="#000" stroke-width="5.3" stroke-linejoin="round" stroke-linecap="round"/>
<path d="M1140.0,1147.0 Q1134.0,1167.0 1131.0,1187.0" fill="none" stroke="#000" stroke-width="5.3" stroke-linejoin="round" stroke-linecap="round"/>
<path d="M1109.0,1228.0 L1096.0,1246.8 C1104.0,1244.2 1113.0,1248.0 1111.0,1254.2 C1109.0,1261.8 1102.0,1266.8 1092.0,1268.0" fill="none" stroke="#000" stroke-width="5.3" stroke-linejoin="round" stroke-linecap="round"/>
<path d="M1107.0,1236.0 L1125.0,1233.5" fill="none" stroke="#000" stroke-width="5.3" stroke-linejoin="round" stroke-linecap="round"/>
<path d="M1137.7,1228.0 L1123.4,1245.8 C1132.2,1243.4 1142.1,1247.0 1139.9,1252.9 C1137.7,1260.1 1130.0,1264.8 1119.0,1266.0" fill="none" stroke="#000" stroke-width="5.3" stroke-linejoin="round" stroke-linecap="round"/>
<path d="M1135.5,1235.6 L1155.3,1233.2" fill="none" stroke="#000" stroke-width="5.3" stroke-linejoin="round" stroke-linecap="round"/>
<path d="M69.0,1254.0 L56.0,1273.5 C64.0,1270.9 73.0,1274.8 71.0,1281.3 C69.0,1289.1 62.0,1294.3 52.0,1295.6" fill="none" stroke="#000" stroke-width="5.3" stroke-linejoin="round" stroke-linecap="round"/>
<path d="M67.0,1262.3 L85.0,1259.7" fill="none" stroke="#000" stroke-width="5.3" stroke-linejoin="round" stroke-linecap="round"/>
<path d="M91.5,1250.7 C82.8,1261.5 75.9,1277.8 80.2,1288.6 C84.6,1298.1 93.3,1291.3 91.5,1280.5 C89.8,1272.4 82.8,1273.7 79.3,1283.2" fill="none" stroke="#000" stroke-width="5.3" stroke-linejoin="round" stroke-linecap="round"/>
<path d="M108.7,1252.0 Q105.1,1274.5 104.5,1297.0" fill="none" stroke="#000" stroke-width="5.3" stroke-linejoin="round" stroke-linecap="round"/>
<path d="M120.5,1362.0 L106.2,1379.8 C115.0,1377.4 124.9,1381.0 122.7,1386.9 C120.5,1394.1 112.8,1398.8 101.8,1400.0" fill="none" stroke="#000" stroke-width="5.3" stroke-linejoin="round" stroke-linecap="round"/>
<path d="M118.3,1369.6 L138.1,1367.2" fill="none" stroke="#000" stroke-width="5.3" stroke-linejoin="round" stroke-linecap="round"/>
<path d="M148.2,1357.7 C136.2,1368.5 126.6,1384.6 132.6,1395.3 C138.6,1404.7 150.6,1398.0 148.2,1387.3 C145.8,1379.2 136.2,1380.5 131.4,1390.0" fill="none" stroke="#000" stroke-width="5.3" stroke-linejoin="round" stroke-linecap="round"/>
<line x1="202.0" y1="223.5" x2="286.0" y2="267.0" stroke="#000" stroke-width="4.8" stroke-linecap="round"/>
<line x1="827.6" y1="321.0" x2="1060.5" y2="315.6" stroke="#000" stroke-width="4.8" stroke-linecap="round"/>
<line x1="202.0" y1="540.0" x2="342.0" y2="610.0" stroke="#000" stroke-width="4.8" stroke-linecap="round"/>
<line x1="792.5" y1="577.0" x2="1082.8" y2="570.0" stroke="#000" stroke-width="4.8" stroke-linecap="round"/>
<line x1="168.0" y1="738.0" x2="373.0" y2="851.0" stroke="#000" stroke-width="4.8" stroke-linecap="round"/>
<line x1="153.0" y1="791.0" x2="366.0" y2="868.0" stroke="#000" stroke-width="4.8" stroke-linecap="round"/>
<line x1="651.8" y1="899.0" x2="1055.0" y2="833.0" stroke="#000" stroke-width="4.8" stroke-linecap="round"/>
<line x1="173.0" y1="920.0" x2="330.0" y2="965.0" stroke="#000" stroke-width="4.8" stroke-linecap="round"/>
<line x1="187.0" y1="1048.0" x2="364.0" y2="1092.0" stroke="#000" stroke-width="4.8" stroke-linecap="round"/>
<line x1="703.5" y1="1136.0" x2="1014.6" y2="1108.0" stroke="#000" stroke-width="4.8" stroke-linecap="round"/>
<line x1="481.0" y1="1238.0" x2="1072.0" y2="1161.4" stroke="#000" stroke-width="4.8" stroke-linecap="round"/>
<line x1="655.0" y1="1264.0" x2="1090.5" y2="1245.0" stroke="#000" stroke-width="4.8" stroke-linecap="round"/>
<line x1="122.0" y1="1265.0" x2="383.0" y2="1208.6" stroke="#000" stroke-width="4.8" stroke-linecap="round"/>
<line x1="165.0" y1="1370.0" x2="445.0" y2="1313.0" stroke="#000" stroke-width="4.8" stroke-linecap="round"/>
<path d="M108,758 C100,762 96,766 96,775 L96,880 C96,895 92,900 85,905 C94,910 100,915 100,930 L100,1025 C100,1038 104,1043 111,1047" fill="none" stroke="#000" stroke-width="4.8" stroke-linejoin="round" stroke-linecap="round"/>
<path d="M1190,272 C1198,277 1204,282 1204,292 L1199,480 L1194,632 L1214,636 L1194,663 L1190,900 L1184,1100 L1180,1300 C1178,1325 1174,1338 1169,1347" fill="none" stroke="#000" stroke-width="4.8" stroke-linejoin="round" stroke-linecap="round"/>
<line x1="142.0" y1="168.0" x2="144.0" y2="171.0" stroke="#000" stroke-width="3.0" stroke-linecap="round"/>
<line x1="448.0" y1="406.0" x2="448.0" y2="413.0" stroke="#000" stroke-width="3.0" stroke-linecap="round"/>
<line x1="782.0" y1="408.0" x2="782.0" y2="413.0" stroke="#000" stroke-width="3.0" stroke-linecap="round"/></svg></body></html>
